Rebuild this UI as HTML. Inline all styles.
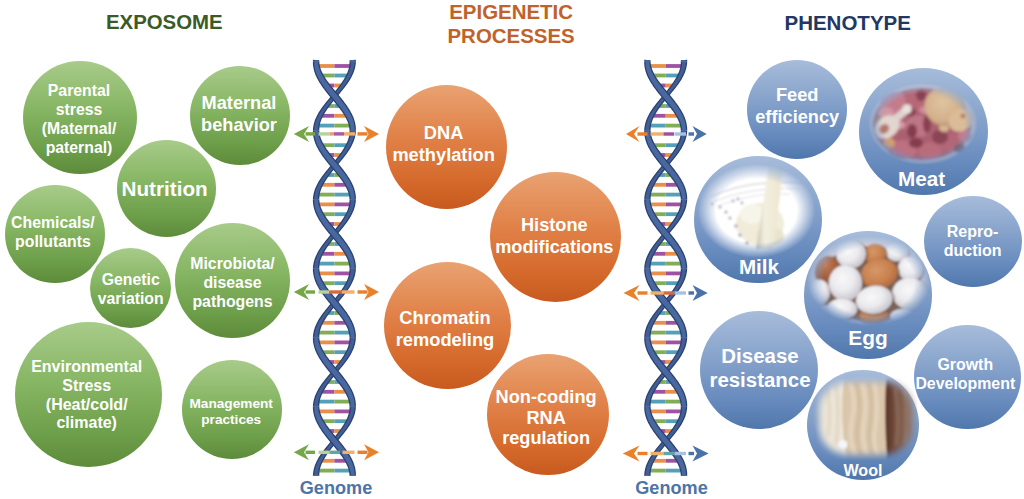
<!DOCTYPE html><html><head><meta charset="utf-8"><style>
html,body{margin:0;padding:0}
body{width:1024px;height:499px;background:#fff;position:relative;overflow:hidden;font-family:"Liberation Sans", sans-serif;font-weight:bold}
.c{position:absolute;border-radius:50%;overflow:hidden}
.l{position:absolute;width:400px;text-align:center;white-space:nowrap}
svg{position:absolute;left:0;top:0}
</style></head><body>
<div class="c" style="left:23.0px;top:60.6px;width:114.0px;height:113.4px;background:linear-gradient(180deg,#a8cb8a 0%,#88b765 40%,#6d9e49 78%,#5d8b3b 100%)"></div>
<div class="c" style="left:190.0px;top:66.0px;width:100.0px;height:99.4px;background:linear-gradient(180deg,#a8cb8a 0%,#88b765 40%,#6d9e49 78%,#5d8b3b 100%)"></div>
<div class="c" style="left:116.6px;top:140.1px;width:99.4px;height:97.0px;background:linear-gradient(180deg,#a8cb8a 0%,#88b765 40%,#6d9e49 78%,#5d8b3b 100%)"></div>
<div class="c" style="left:5.0px;top:184.5px;width:100.0px;height:98.6px;background:linear-gradient(180deg,#a8cb8a 0%,#88b765 40%,#6d9e49 78%,#5d8b3b 100%)"></div>
<div class="c" style="left:90.2px;top:247.8px;width:81.2px;height:80.0px;background:linear-gradient(180deg,#a8cb8a 0%,#88b765 40%,#6d9e49 78%,#5d8b3b 100%)"></div>
<div class="c" style="left:174.5px;top:223.0px;width:115.0px;height:114.8px;background:linear-gradient(180deg,#a8cb8a 0%,#88b765 40%,#6d9e49 78%,#5d8b3b 100%)"></div>
<div class="c" style="left:14.5px;top:321.8px;width:147.8px;height:145.4px;background:linear-gradient(180deg,#a8cb8a 0%,#88b765 40%,#6d9e49 78%,#5d8b3b 100%)"></div>
<div class="c" style="left:181.5px;top:359.7px;width:100.6px;height:99.2px;background:linear-gradient(180deg,#a8cb8a 0%,#88b765 40%,#6d9e49 78%,#5d8b3b 100%)"></div>
<div class="c" style="left:386.0px;top:85.4px;width:121.2px;height:124.0px;background:linear-gradient(180deg,#e9a272 0%,#e1834a 40%,#d5692b 78%,#c85a1f 100%)"></div>
<div class="c" style="left:489.8px;top:171.9px;width:131.4px;height:130.0px;background:linear-gradient(180deg,#e9a272 0%,#e1834a 40%,#d5692b 78%,#c85a1f 100%)"></div>
<div class="c" style="left:383.6px;top:261.8px;width:127.2px;height:127.0px;background:linear-gradient(180deg,#e9a272 0%,#e1834a 40%,#d5692b 78%,#c85a1f 100%)"></div>
<div class="c" style="left:487.0px;top:354.3px;width:122.0px;height:121.2px;background:linear-gradient(180deg,#e9a272 0%,#e1834a 40%,#d5692b 78%,#c85a1f 100%)"></div>
<div class="c" style="left:747.2px;top:60.0px;width:100.0px;height:98.6px;background:linear-gradient(180deg,#a7bcda 0%,#88a4cc 38%,#6a8dbf 72%,#5077ac 100%)"></div>
<div class="c" style="left:700.0px;top:311.0px;width:118.4px;height:118.4px;background:linear-gradient(180deg,#a7bcda 0%,#88a4cc 38%,#6a8dbf 72%,#5077ac 100%)"></div>
<div class="c" style="left:924.0px;top:195.8px;width:98.0px;height:91.5px;background:linear-gradient(180deg,#a7bcda 0%,#88a4cc 38%,#6a8dbf 72%,#5077ac 100%)"></div>
<div class="c" style="left:914.4px;top:324.7px;width:106.4px;height:104.8px;background:linear-gradient(180deg,#a7bcda 0%,#88a4cc 38%,#6a8dbf 72%,#5077ac 100%)"></div>
<div class="c" style="left:859.2px;top:67.8px;width:128.6px;height:127.0px;background:linear-gradient(180deg,#a7bcda 0%,#88a4cc 38%,#6a8dbf 72%,#5077ac 100%)"></div>
<div class="c" style="left:694.0px;top:155.7px;width:128.0px;height:127.2px;background:linear-gradient(180deg,#a7bcda 0%,#88a4cc 38%,#6a8dbf 72%,#5077ac 100%)"></div>
<div class="c" style="left:804.2px;top:231.4px;width:127.8px;height:127.2px;background:linear-gradient(180deg,#a7bcda 0%,#88a4cc 38%,#6a8dbf 72%,#5077ac 100%)"></div>
<div class="c" style="left:807.2px;top:369.7px;width:112.0px;height:110.6px;background:linear-gradient(180deg,#a7bcda 0%,#88a4cc 38%,#6a8dbf 72%,#5077ac 100%)"></div>
<svg width="1024" height="499" viewBox="0 0 1024 499"><defs>
<filter id="b1" x="-20%" y="-20%" width="140%" height="140%"><feGaussianBlur stdDeviation="0.9"/></filter>
<filter id="b15" x="-20%" y="-20%" width="140%" height="140%"><feGaussianBlur stdDeviation="1.4"/></filter>
<filter id="b2" x="-30%" y="-30%" width="160%" height="160%"><feGaussianBlur stdDeviation="2"/></filter>
<radialGradient id="fe" cx="50%" cy="50%" r="50%"><stop offset="0.74" stop-color="#fff"/><stop offset="1" stop-color="#000"/></radialGradient>
<radialGradient id="fe3" cx="50%" cy="50%" r="50%"><stop offset="0.8" stop-color="#fff"/><stop offset="1" stop-color="#000"/></radialGradient>
<radialGradient id="fe2" cx="50%" cy="50%" r="50%"><stop offset="0.68" stop-color="#fff"/><stop offset="1" stop-color="#000"/></radialGradient>
<mask id="mMeat" maskUnits="userSpaceOnUse" x="860" y="80" width="130" height="100"><ellipse cx="923" cy="124" rx="55" ry="41" fill="url(#fe)"/></mask>
<mask id="mMilk" maskUnits="userSpaceOnUse" x="690" y="155" width="140" height="115"><ellipse cx="756.5" cy="211" rx="59" ry="47" fill="url(#fe2)"/></mask>
<mask id="mEgg" maskUnits="userSpaceOnUse" x="800" y="230" width="140" height="110"><ellipse cx="869" cy="281" rx="62" ry="45" fill="url(#fe)"/></mask>
<filter id="mb" x="-20%" y="-20%" width="140%" height="140%"><feGaussianBlur stdDeviation="3.5"/></filter>
<mask id="mWool" maskUnits="userSpaceOnUse" x="800" y="365" width="130" height="105"><rect x="819" y="382" width="94" height="73" rx="30" ry="28" fill="#fff" filter="url(#mb)"/></mask>
<radialGradient id="gWe" cx="42%" cy="38%" r="68%"><stop offset="0" stop-color="#f8f8f9"/><stop offset="0.5" stop-color="#ebeaee"/><stop offset="1" stop-color="#c2bfc8"/></radialGradient>
<radialGradient id="gBe" cx="42%" cy="38%" r="68%"><stop offset="0" stop-color="#d79868"/><stop offset="0.6" stop-color="#c8804e"/><stop offset="1" stop-color="#a86842"/></radialGradient>
<radialGradient id="gBe2" cx="42%" cy="35%" r="68%"><stop offset="0" stop-color="#c27a54"/><stop offset="1" stop-color="#8e4e30"/></radialGradient>
<radialGradient id="gBread" cx="45%" cy="40%" r="65%"><stop offset="0" stop-color="#dfc4a0"/><stop offset="0.7" stop-color="#d2b08a"/><stop offset="1" stop-color="#b48e6c"/></radialGradient>
<linearGradient id="gBrown" gradientUnits="userSpaceOnUse" x1="886" x2="914" y1="0" y2="0"><stop offset="0" stop-color="#5c3528"/><stop offset="0.45" stop-color="#7a5646"/><stop offset="1" stop-color="#947868"/></linearGradient>
<linearGradient id="gStream" x1="0" x2="1" y1="0" y2="0"><stop offset="0" stop-color="#c6c0b2"/><stop offset="0.3" stop-color="#f3efdf"/><stop offset="0.8" stop-color="#eee7d2"/><stop offset="1" stop-color="#f6f3ea"/></linearGradient>
</defs><g mask="url(#mMeat)"><g filter="url(#b15)"><ellipse cx="923" cy="124" rx="58" ry="44" fill="#ecdcd8"/><ellipse cx="922" cy="124" rx="50" ry="37" fill="#aa6070"/><ellipse cx="893" cy="103" rx="14" ry="12" fill="#c27c8c" transform="rotate(-20 893 103)"/><ellipse cx="886" cy="113" rx="8" ry="6" fill="#d296a2" transform="rotate(0 886 113)"/><ellipse cx="915" cy="100" rx="10" ry="12" fill="#b66878" transform="rotate(0 915 100)"/><ellipse cx="921" cy="95" rx="5" ry="6" fill="#8a4252" transform="rotate(0 921 95)"/><ellipse cx="910" cy="112" rx="6" ry="5" fill="#8a4050" transform="rotate(0 910 112)"/><ellipse cx="918" cy="126" rx="13" ry="11" fill="#bc7686" transform="rotate(0 918 126)"/><ellipse cx="927" cy="124" rx="4" ry="9" fill="#884050" transform="rotate(0 927 124)"/><ellipse cx="912" cy="131" rx="5" ry="7" fill="#843c4c" transform="rotate(0 912 131)"/><ellipse cx="902" cy="150" rx="15" ry="10" fill="#bc7080" transform="rotate(0 902 150)"/><ellipse cx="930" cy="151" rx="12" ry="9" fill="#b86c7c" transform="rotate(0 930 151)"/><ellipse cx="952" cy="143" rx="13" ry="10" fill="#b26676" transform="rotate(0 952 143)"/><ellipse cx="940" cy="137" rx="8" ry="7" fill="#8a4454" transform="rotate(0 940 137)"/><ellipse cx="965" cy="136" rx="7" ry="6" fill="#c27c8a" transform="rotate(0 965 136)"/><ellipse cx="916" cy="143" rx="7" ry="5" fill="#843c4c" transform="rotate(0 916 143)"/><ellipse cx="944" cy="128" rx="5" ry="4" fill="#d6b894" transform="rotate(0 944 128)"/><ellipse cx="960" cy="149" rx="6" ry="5" fill="#7a4a4a" transform="rotate(0 960 149)"/><ellipse cx="889" cy="143" rx="6" ry="5" fill="#d0a070" transform="rotate(0 889 143)"/><ellipse cx="880" cy="120" rx="3" ry="3" fill="#7a9a60" transform="rotate(0 880 120)"/><ellipse cx="925" cy="110" rx="6" ry="4" fill="#d08a98" transform="rotate(0 925 110)"/><ellipse cx="900" cy="125" rx="5" ry="4" fill="#d89aa6" transform="rotate(0 900 125)"/><ellipse cx="945" cy="106" rx="20.5" ry="20" fill="url(#gBread)" transform="rotate(-10 945 106)"/><ellipse cx="961" cy="120" rx="13" ry="11" fill="#dcbc98" transform="rotate(-35 961 120)"/><ellipse cx="963" cy="116" rx="2.5" ry="2" fill="#a86848"/><path d="M893,121 L905,111" stroke="#ded2cc" stroke-width="7.5" stroke-linecap="round"/><circle cx="907" cy="109" r="4.8" fill="#e8e0dc"/><ellipse cx="887" cy="127" rx="13.5" ry="10.5" fill="#e2d6d0" transform="rotate(-40 887 127)"/><ellipse cx="884" cy="129" rx="5.5" ry="4.5" fill="#b4786a" transform="rotate(-40 884 129)"/></g></g><g mask="url(#mMilk)"><ellipse cx="756" cy="211" rx="62" ry="48" fill="#fff"/><g filter="url(#b1)"><path d="M710,197 Q748,179 804,183" stroke="#d6d6dc" stroke-width="1.3" fill="none"/><path d="M713,202 Q750,186 800,189" stroke="#dedee4" stroke-width="1.1" fill="none"/><path d="M718,206 Q752,192 790,194" stroke="#e2e2e8" stroke-width="1" fill="none"/><ellipse cx="760" cy="224" rx="24" ry="21" fill="#f1ecda"/><ellipse cx="752" cy="214" rx="12" ry="10" fill="#f7f4ea"/><ellipse cx="770" cy="236" rx="14" ry="10" fill="#ebe4cc"/><circle cx="712" cy="204" r="1.3" fill="#b2b0bc"/><circle cx="720" cy="207" r="1.5" fill="#b2b0bc"/><circle cx="726" cy="212" r="1.6" fill="#b2b0bc"/><circle cx="730" cy="218" r="1.6" fill="#b2b0bc"/><circle cx="736" cy="226" r="1.8" fill="#b2b0bc"/><circle cx="740" cy="235" r="1.8" fill="#b2b0bc"/><circle cx="747" cy="243" r="1.8" fill="#b2b0bc"/><circle cx="733" cy="201" r="1.4" fill="#b2b0bc"/><circle cx="738" cy="199" r="1.4" fill="#b2b0bc"/><circle cx="742" cy="203" r="1.4" fill="#b2b0bc"/><path d="M768.5,168 L784,168 L772.5,249 L756,249 Z" fill="url(#gStream)"/></g></g><g mask="url(#mEgg)"><g filter="url(#b1)"><ellipse cx="869" cy="281" rx="64" ry="47" fill="#dcd8de"/><ellipse cx="869" cy="284" rx="52" ry="38" fill="#7e6458"/><ellipse cx="897.8" cy="252.7" rx="12.899999999999999" ry="11.2" fill="#6e5648" opacity="0.55" transform="rotate(0 897 251.5)"/><ellipse cx="897" cy="251.5" rx="11.7" ry="10" fill="url(#gWe)" transform="rotate(0 897 251.5)"/><ellipse cx="875.8" cy="255.2" rx="12.2" ry="11.7" fill="#6e5648" opacity="0.55" transform="rotate(0 875 254)"/><ellipse cx="875" cy="254" rx="11" ry="10.5" fill="url(#gBe)" transform="rotate(0 875 254)"/><ellipse cx="851.8" cy="255.2" rx="16.2" ry="15.7" fill="#6e5648" opacity="0.55" transform="rotate(-10 851 254)"/><ellipse cx="851" cy="254" rx="15" ry="14.5" fill="url(#gWe)" transform="rotate(-10 851 254)"/><ellipse cx="827.8" cy="271.2" rx="13.2" ry="15.7" fill="#6e5648" opacity="0.55" transform="rotate(15 827 270)"/><ellipse cx="827" cy="270" rx="12" ry="14.5" fill="url(#gBe2)" transform="rotate(15 827 270)"/><ellipse cx="911.5" cy="269.8" rx="13.899999999999999" ry="13.799999999999999" fill="#6e5648" opacity="0.55" transform="rotate(0 910.7 268.6)"/><ellipse cx="910.7" cy="268.6" rx="12.7" ry="12.6" fill="url(#gWe)" transform="rotate(0 910.7 268.6)"/><ellipse cx="880.3" cy="274.8" rx="19.7" ry="16.2" fill="#6e5648" opacity="0.55" transform="rotate(-10 879.5 273.6)"/><ellipse cx="879.5" cy="273.6" rx="18.5" ry="15" fill="url(#gBe)" transform="rotate(-10 879.5 273.6)"/><ellipse cx="819.8" cy="293.2" rx="12.2" ry="13.799999999999999" fill="#6e5648" opacity="0.55" transform="rotate(0 819 292)"/><ellipse cx="819" cy="292" rx="11" ry="12.6" fill="url(#gWe)" transform="rotate(0 819 292)"/><ellipse cx="846.1999999999999" cy="284.2" rx="17.9" ry="19.2" fill="#6e5648" opacity="0.55" transform="rotate(0 845.4 283)"/><ellipse cx="845.4" cy="283" rx="16.7" ry="18" fill="url(#gWe)" transform="rotate(0 845.4 283)"/><ellipse cx="911.3" cy="295.2" rx="19.7" ry="17.4" fill="#6e5648" opacity="0.55" transform="rotate(10 910.5 294)"/><ellipse cx="910.5" cy="294" rx="18.5" ry="16.2" fill="url(#gWe)" transform="rotate(10 910.5 294)"/><ellipse cx="874.8" cy="317.2" rx="15.7" ry="9.2" fill="#6e5648" opacity="0.55" transform="rotate(0 874 316)"/><ellipse cx="874" cy="316" rx="14.5" ry="8" fill="url(#gBe)" transform="rotate(0 874 316)"/><ellipse cx="903.8" cy="317.7" rx="14.2" ry="8.7" fill="#6e5648" opacity="0.55" transform="rotate(0 903 316.5)"/><ellipse cx="903" cy="316.5" rx="13" ry="7.5" fill="url(#gWe)" transform="rotate(0 903 316.5)"/><ellipse cx="842.8" cy="310.2" rx="16.5" ry="11.6" fill="#6e5648" opacity="0.55" transform="rotate(0 842 309)"/><ellipse cx="842" cy="309" rx="15.3" ry="10.4" fill="url(#gWe)" transform="rotate(0 842 309)"/><ellipse cx="875.0999999999999" cy="301.0" rx="19.7" ry="15.2" fill="#6e5648" opacity="0.55" transform="rotate(-10 874.3 299.8)"/><ellipse cx="874.3" cy="299.8" rx="18.5" ry="14" fill="url(#gWe)" transform="rotate(-10 874.3 299.8)"/></g></g><g mask="url(#mWool)"><g filter="url(#b1)"><ellipse cx="865.5" cy="418" rx="53" ry="42" fill="#e6ddd2"/><path d="M816,378 L846,378 Q839,418 847,460 L816,460 Z" fill="#eee6d8"/><path d="M844,378 L888,378 L886,460 L847,460 Q839,418 844,378 Z" fill="#dac6aa"/><g filter="url(#b15)"><path d="M850,382 Q857,400 852,420 Q848,440 856,456 M862,382 Q868,402 864,422 Q861,440 867,456 M874,382 Q879,405 875,428 Q872,444 878,456" stroke="#eadcc6" stroke-width="3" fill="none"/><path d="M856,382 Q862,402 858,424 Q855,442 861,456 M869,382 Q874,404 870,426 Q868,442 873,456" stroke="#c7b090" stroke-width="1.6" fill="none"/><path d="M826,384 Q832,410 828,436 M836,384 Q840,412 836,444" stroke="#dfd3c0" stroke-width="3" fill="none"/></g><path d="M886,378 Q884,418 887,460 L918,460 L918,378 Z" fill="url(#gBrown)"/><g filter="url(#b15)"><path d="M895,388 Q900,418 896,446 M905,390 Q908,420 905,444" stroke="#9a7a68" stroke-width="2" fill="none"/></g><ellipse cx="843" cy="444.5" rx="4.5" ry="4.5" fill="#f4f6fa"/></g></g><filter id="hb" x="-5%" y="-5%" width="110%" height="110%"><feGaussianBlur stdDeviation="0.35"/></filter><g filter="url(#hb)"><rect x="316.5" y="64.1" width="17.9" height="3.8" fill="#e98f48"/><rect x="334.4" y="64.1" width="17.9" height="3.8" fill="#9e52a2"/><rect x="319.7" y="73.6" width="14.7" height="3.8" fill="#80ad55"/><rect x="334.4" y="73.6" width="14.7" height="3.8" fill="#55a0b6"/><rect x="326.0" y="83.6" width="8.4" height="3.8" fill="#9e52a2"/><rect x="334.4" y="83.6" width="8.4" height="3.8" fill="#e98f48"/><rect x="326.4" y="104.1" width="8.0" height="3.8" fill="#80ad55"/><rect x="334.4" y="104.1" width="8.0" height="3.8" fill="#55a0b6"/><rect x="320.0" y="113.9" width="14.4" height="3.8" fill="#9e52a2"/><rect x="334.4" y="113.9" width="14.4" height="3.8" fill="#e98f48"/><rect x="316.6" y="123.7" width="17.8" height="3.8" fill="#55a0b6"/><rect x="334.4" y="123.7" width="17.8" height="3.8" fill="#80ad55"/><rect x="320.0" y="143.3" width="14.4" height="3.8" fill="#80ad55"/><rect x="334.4" y="143.3" width="14.4" height="3.8" fill="#55a0b6"/><rect x="326.4" y="153.1" width="8.0" height="3.8" fill="#9e52a2"/><rect x="334.4" y="153.1" width="8.0" height="3.8" fill="#e98f48"/><rect x="326.4" y="173.1" width="8.0" height="3.8" fill="#55a0b6"/><rect x="334.4" y="173.1" width="8.0" height="3.8" fill="#80ad55"/><rect x="320.0" y="182.9" width="14.4" height="3.8" fill="#e98f48"/><rect x="334.4" y="182.9" width="14.4" height="3.8" fill="#9e52a2"/><rect x="316.6" y="192.7" width="17.8" height="3.8" fill="#80ad55"/><rect x="334.4" y="192.7" width="17.8" height="3.8" fill="#55a0b6"/><rect x="316.6" y="202.5" width="17.8" height="3.8" fill="#e98f48"/><rect x="334.4" y="202.5" width="17.8" height="3.8" fill="#9e52a2"/><rect x="320.0" y="212.3" width="14.4" height="3.8" fill="#80ad55"/><rect x="334.4" y="212.3" width="14.4" height="3.8" fill="#55a0b6"/><rect x="326.4" y="222.1" width="8.0" height="3.8" fill="#9e52a2"/><rect x="334.4" y="222.1" width="8.0" height="3.8" fill="#e98f48"/><rect x="326.4" y="242.1" width="8.0" height="3.8" fill="#80ad55"/><rect x="334.4" y="242.1" width="8.0" height="3.8" fill="#55a0b6"/><rect x="320.0" y="251.9" width="14.4" height="3.8" fill="#9e52a2"/><rect x="334.4" y="251.9" width="14.4" height="3.8" fill="#e98f48"/><rect x="316.6" y="261.7" width="17.8" height="3.8" fill="#55a0b6"/><rect x="334.4" y="261.7" width="17.8" height="3.8" fill="#80ad55"/><rect x="316.6" y="271.5" width="17.8" height="3.8" fill="#e98f48"/><rect x="334.4" y="271.5" width="17.8" height="3.8" fill="#9e52a2"/><rect x="320.0" y="281.3" width="14.4" height="3.8" fill="#80ad55"/><rect x="334.4" y="281.3" width="14.4" height="3.8" fill="#55a0b6"/><rect x="326.4" y="311.1" width="8.0" height="3.8" fill="#55a0b6"/><rect x="334.4" y="311.1" width="8.0" height="3.8" fill="#80ad55"/><rect x="320.0" y="320.9" width="14.4" height="3.8" fill="#e98f48"/><rect x="334.4" y="320.9" width="14.4" height="3.8" fill="#9e52a2"/><rect x="316.6" y="330.7" width="17.8" height="3.8" fill="#80ad55"/><rect x="334.4" y="330.7" width="17.8" height="3.8" fill="#55a0b6"/><rect x="316.6" y="340.5" width="17.8" height="3.8" fill="#e98f48"/><rect x="334.4" y="340.5" width="17.8" height="3.8" fill="#9e52a2"/><rect x="320.0" y="350.3" width="14.4" height="3.8" fill="#80ad55"/><rect x="334.4" y="350.3" width="14.4" height="3.8" fill="#55a0b6"/><rect x="326.4" y="360.1" width="8.0" height="3.8" fill="#9e52a2"/><rect x="334.4" y="360.1" width="8.0" height="3.8" fill="#e98f48"/><rect x="326.4" y="380.1" width="8.0" height="3.8" fill="#80ad55"/><rect x="334.4" y="380.1" width="8.0" height="3.8" fill="#55a0b6"/><rect x="320.0" y="389.9" width="14.4" height="3.8" fill="#9e52a2"/><rect x="334.4" y="389.9" width="14.4" height="3.8" fill="#e98f48"/><rect x="316.6" y="399.7" width="17.8" height="3.8" fill="#55a0b6"/><rect x="334.4" y="399.7" width="17.8" height="3.8" fill="#80ad55"/><rect x="316.6" y="409.5" width="17.8" height="3.8" fill="#e98f48"/><rect x="334.4" y="409.5" width="17.8" height="3.8" fill="#9e52a2"/><rect x="320.0" y="419.3" width="14.4" height="3.8" fill="#80ad55"/><rect x="334.4" y="419.3" width="14.4" height="3.8" fill="#55a0b6"/><rect x="326.4" y="429.1" width="8.0" height="3.8" fill="#9e52a2"/><rect x="334.4" y="429.1" width="8.0" height="3.8" fill="#e98f48"/><rect x="320.0" y="458.9" width="14.4" height="3.8" fill="#e98f48"/><rect x="334.4" y="458.9" width="14.4" height="3.8" fill="#9e52a2"/><rect x="316.6" y="468.7" width="17.8" height="3.8" fill="#80ad55"/><rect x="334.4" y="468.7" width="17.8" height="3.8" fill="#55a0b6"/><path d="M313.0,59.8 L312.9,60.7 L312.9,61.5 L319.3,61.5 L319.3,60.8 L319.3,60.2Z" fill="#2c4272"/><path d="M349.5,61.5 L349.5,62.8 L349.4,64.1 L349.3,65.5 L349.1,66.8 L348.8,68.2 L348.4,69.6 L347.9,71.0 L347.4,72.4 L346.8,73.8 L346.1,75.2 L345.4,76.6 L344.6,78.1 L343.7,79.5 L342.7,81.0 L341.8,82.5 L340.7,83.9 L339.6,85.4 L338.5,86.9 L337.3,88.4 L336.1,89.9 L334.9,91.4 L333.7,92.9 L332.4,94.4 L331.2,95.9 L329.9,97.4 L328.7,98.9 L327.5,100.4 L326.2,101.9 L325.0,103.4 L323.9,104.9 L322.7,106.5 L321.6,108.0 L320.6,109.5 L319.6,111.1 L318.6,112.6 L317.7,114.2 L316.9,115.8 L316.1,117.4 L315.4,119.0 L314.8,120.6 L314.3,122.2 L313.8,123.8 L313.5,125.5 L313.2,127.1 L313.0,128.8 L312.9,130.5 L319.3,130.5 L319.3,129.2 L319.4,127.9 L319.5,126.5 L319.7,125.2 L320.0,123.8 L320.4,122.4 L320.9,121.0 L321.4,119.6 L322.0,118.2 L322.7,116.8 L323.4,115.4 L324.2,113.9 L325.1,112.5 L326.1,111.0 L327.0,109.5 L328.1,108.1 L329.2,106.6 L330.3,105.1 L331.5,103.6 L332.7,102.1 L333.9,100.6 L335.1,99.1 L336.4,97.6 L337.6,96.1 L338.9,94.6 L340.1,93.1 L341.3,91.6 L342.6,90.1 L343.8,88.6 L344.9,87.1 L346.1,85.5 L347.2,84.0 L348.2,82.5 L349.2,80.9 L350.2,79.4 L351.1,77.8 L351.9,76.2 L352.7,74.6 L353.4,73.0 L354.0,71.4 L354.5,69.8 L355.0,68.2 L355.3,66.5 L355.6,64.9 L355.8,63.2 L355.9,61.5Z" fill="#2c4272"/><path d="M349.5,130.5 L349.5,131.8 L349.4,133.1 L349.3,134.5 L349.1,135.8 L348.8,137.2 L348.4,138.6 L347.9,140.0 L347.4,141.4 L346.8,142.8 L346.1,144.2 L345.4,145.6 L344.6,147.1 L343.7,148.5 L342.7,150.0 L341.8,151.5 L340.7,152.9 L339.6,154.4 L338.5,155.9 L337.3,157.4 L336.1,158.9 L334.9,160.4 L333.7,161.9 L332.4,163.4 L331.2,164.9 L329.9,166.4 L328.7,167.9 L327.5,169.4 L326.2,170.9 L325.0,172.4 L323.9,173.9 L322.7,175.5 L321.6,177.0 L320.6,178.5 L319.6,180.1 L318.6,181.6 L317.7,183.2 L316.9,184.8 L316.1,186.4 L315.4,188.0 L314.8,189.6 L314.3,191.2 L313.8,192.8 L313.5,194.5 L313.2,196.1 L313.0,197.8 L312.9,199.5 L319.3,199.5 L319.3,198.2 L319.4,196.9 L319.5,195.5 L319.7,194.2 L320.0,192.8 L320.4,191.4 L320.9,190.0 L321.4,188.6 L322.0,187.2 L322.7,185.8 L323.4,184.4 L324.2,182.9 L325.1,181.5 L326.1,180.0 L327.0,178.5 L328.1,177.1 L329.2,175.6 L330.3,174.1 L331.5,172.6 L332.7,171.1 L333.9,169.6 L335.1,168.1 L336.4,166.6 L337.6,165.1 L338.9,163.6 L340.1,162.1 L341.3,160.6 L342.6,159.1 L343.8,157.6 L344.9,156.1 L346.1,154.5 L347.2,153.0 L348.2,151.5 L349.2,149.9 L350.2,148.4 L351.1,146.8 L351.9,145.2 L352.7,143.6 L353.4,142.0 L354.0,140.4 L354.5,138.8 L355.0,137.2 L355.3,135.5 L355.6,133.9 L355.8,132.2 L355.9,130.5Z" fill="#2c4272"/><path d="M349.5,199.5 L349.5,200.8 L349.4,202.1 L349.3,203.5 L349.1,204.8 L348.8,206.2 L348.4,207.6 L347.9,209.0 L347.4,210.4 L346.8,211.8 L346.1,213.2 L345.4,214.6 L344.6,216.1 L343.7,217.5 L342.7,219.0 L341.8,220.5 L340.7,221.9 L339.6,223.4 L338.5,224.9 L337.3,226.4 L336.1,227.9 L334.9,229.4 L333.7,230.9 L332.4,232.4 L331.2,233.9 L329.9,235.4 L328.7,236.9 L327.5,238.4 L326.2,239.9 L325.0,241.4 L323.9,242.9 L322.7,244.5 L321.6,246.0 L320.6,247.5 L319.6,249.1 L318.6,250.6 L317.7,252.2 L316.9,253.8 L316.1,255.4 L315.4,257.0 L314.8,258.6 L314.3,260.2 L313.8,261.8 L313.5,263.5 L313.2,265.1 L313.0,266.8 L312.9,268.5 L319.3,268.5 L319.3,267.2 L319.4,265.9 L319.5,264.5 L319.7,263.2 L320.0,261.8 L320.4,260.4 L320.9,259.0 L321.4,257.6 L322.0,256.2 L322.7,254.8 L323.4,253.4 L324.2,251.9 L325.1,250.5 L326.1,249.0 L327.0,247.5 L328.1,246.1 L329.2,244.6 L330.3,243.1 L331.5,241.6 L332.7,240.1 L333.9,238.6 L335.1,237.1 L336.4,235.6 L337.6,234.1 L338.9,232.6 L340.1,231.1 L341.3,229.6 L342.6,228.1 L343.8,226.6 L344.9,225.1 L346.1,223.5 L347.2,222.0 L348.2,220.5 L349.2,218.9 L350.2,217.4 L351.1,215.8 L351.9,214.2 L352.7,212.6 L353.4,211.0 L354.0,209.4 L354.5,207.8 L355.0,206.2 L355.3,204.5 L355.6,202.9 L355.8,201.2 L355.9,199.5Z" fill="#2c4272"/><path d="M349.5,268.5 L349.5,269.8 L349.4,271.1 L349.3,272.5 L349.1,273.8 L348.8,275.2 L348.4,276.6 L347.9,278.0 L347.4,279.4 L346.8,280.8 L346.1,282.2 L345.4,283.6 L344.6,285.1 L343.7,286.5 L342.7,288.0 L341.8,289.5 L340.7,290.9 L339.6,292.4 L338.5,293.9 L337.3,295.4 L336.1,296.9 L334.9,298.4 L333.7,299.9 L332.4,301.4 L331.2,302.9 L329.9,304.4 L328.7,305.9 L327.5,307.4 L326.2,308.9 L325.0,310.4 L323.9,311.9 L322.7,313.5 L321.6,315.0 L320.6,316.5 L319.6,318.1 L318.6,319.6 L317.7,321.2 L316.9,322.8 L316.1,324.4 L315.4,326.0 L314.8,327.6 L314.3,329.2 L313.8,330.8 L313.5,332.5 L313.2,334.1 L313.0,335.8 L312.9,337.5 L319.3,337.5 L319.3,336.2 L319.4,334.9 L319.5,333.5 L319.7,332.2 L320.0,330.8 L320.4,329.4 L320.9,328.0 L321.4,326.6 L322.0,325.2 L322.7,323.8 L323.4,322.4 L324.2,320.9 L325.1,319.5 L326.1,318.0 L327.0,316.5 L328.1,315.1 L329.2,313.6 L330.3,312.1 L331.5,310.6 L332.7,309.1 L333.9,307.6 L335.1,306.1 L336.4,304.6 L337.6,303.1 L338.9,301.6 L340.1,300.1 L341.3,298.6 L342.6,297.1 L343.8,295.6 L344.9,294.1 L346.1,292.5 L347.2,291.0 L348.2,289.5 L349.2,287.9 L350.2,286.4 L351.1,284.8 L351.9,283.2 L352.7,281.6 L353.4,280.0 L354.0,278.4 L354.5,276.8 L355.0,275.2 L355.3,273.5 L355.6,271.9 L355.8,270.2 L355.9,268.5Z" fill="#2c4272"/><path d="M349.5,337.5 L349.5,338.8 L349.4,340.1 L349.3,341.5 L349.1,342.8 L348.8,344.2 L348.4,345.6 L347.9,347.0 L347.4,348.4 L346.8,349.8 L346.1,351.2 L345.4,352.6 L344.6,354.1 L343.7,355.5 L342.7,357.0 L341.8,358.5 L340.7,359.9 L339.6,361.4 L338.5,362.9 L337.3,364.4 L336.1,365.9 L334.9,367.4 L333.7,368.9 L332.4,370.4 L331.2,371.9 L329.9,373.4 L328.7,374.9 L327.5,376.4 L326.2,377.9 L325.0,379.4 L323.9,380.9 L322.7,382.5 L321.6,384.0 L320.6,385.5 L319.6,387.1 L318.6,388.6 L317.7,390.2 L316.9,391.8 L316.1,393.4 L315.4,395.0 L314.8,396.6 L314.3,398.2 L313.8,399.8 L313.5,401.5 L313.2,403.1 L313.0,404.8 L312.9,406.5 L319.3,406.5 L319.3,405.2 L319.4,403.9 L319.5,402.5 L319.7,401.2 L320.0,399.8 L320.4,398.4 L320.9,397.0 L321.4,395.6 L322.0,394.2 L322.7,392.8 L323.4,391.4 L324.2,389.9 L325.1,388.5 L326.1,387.0 L327.0,385.5 L328.1,384.1 L329.2,382.6 L330.3,381.1 L331.5,379.6 L332.7,378.1 L333.9,376.6 L335.1,375.1 L336.4,373.6 L337.6,372.1 L338.9,370.6 L340.1,369.1 L341.3,367.6 L342.6,366.1 L343.8,364.6 L344.9,363.1 L346.1,361.5 L347.2,360.0 L348.2,358.5 L349.2,356.9 L350.2,355.4 L351.1,353.8 L351.9,352.2 L352.7,350.6 L353.4,349.0 L354.0,347.4 L354.5,345.8 L355.0,344.2 L355.3,342.5 L355.6,340.9 L355.8,339.2 L355.9,337.5Z" fill="#2c4272"/><path d="M349.5,406.5 L349.5,407.8 L349.4,409.1 L349.3,410.5 L349.1,411.8 L348.8,413.2 L348.4,414.6 L347.9,416.0 L347.4,417.4 L346.8,418.8 L346.1,420.2 L345.4,421.6 L344.6,423.1 L343.7,424.5 L342.7,426.0 L341.8,427.5 L340.7,428.9 L339.6,430.4 L338.5,431.9 L337.3,433.4 L336.1,434.9 L334.9,436.4 L333.7,437.9 L332.4,439.4 L331.2,440.9 L329.9,442.4 L328.7,443.9 L327.5,445.4 L326.2,446.9 L325.0,448.4 L323.9,449.9 L322.7,451.5 L321.6,453.0 L320.6,454.5 L319.6,456.1 L318.6,457.6 L317.7,459.2 L316.9,460.8 L316.1,462.4 L315.4,464.0 L314.8,465.6 L314.3,467.2 L313.8,468.8 L313.5,470.5 L313.2,472.1 L313.0,473.8 L312.9,475.5 L319.3,475.5 L319.3,474.2 L319.4,472.9 L319.5,471.5 L319.7,470.2 L320.0,468.8 L320.4,467.4 L320.9,466.0 L321.4,464.6 L322.0,463.2 L322.7,461.8 L323.4,460.4 L324.2,458.9 L325.1,457.5 L326.1,456.0 L327.0,454.5 L328.1,453.1 L329.2,451.6 L330.3,450.1 L331.5,448.6 L332.7,447.1 L333.9,445.6 L335.1,444.1 L336.4,442.6 L337.6,441.1 L338.9,439.6 L340.1,438.1 L341.3,436.6 L342.6,435.1 L343.8,433.6 L344.9,432.1 L346.1,430.5 L347.2,429.0 L348.2,427.5 L349.2,425.9 L350.2,424.4 L351.1,422.8 L351.9,421.2 L352.7,419.6 L353.4,418.0 L354.0,416.4 L354.5,414.8 L355.0,413.2 L355.3,411.5 L355.6,409.9 L355.8,408.2 L355.9,406.5Z" fill="#2c4272"/><path d="M349.5,475.5 L349.5,475.7 L349.5,475.9 L355.9,476.1 L355.9,475.8 L355.9,475.5Z" fill="#2c4272"/><path d="M314.3,59.9 L314.2,61.1 L314.2,62.4 L318.0,62.2 L318.0,61.2 L318.0,60.1Z" fill="#425e94"/><path d="M350.8,60.8 L350.8,62.2 L350.8,63.6 L350.7,65.0 L350.5,66.4 L350.2,67.8 L349.8,69.2 L349.4,70.7 L348.9,72.1 L348.3,73.6 L347.6,75.0 L346.9,76.5 L346.1,78.0 L345.2,79.5 L344.3,81.0 L343.3,82.5 L342.3,84.0 L341.2,85.4 L340.1,86.9 L338.9,88.4 L337.8,89.9 L336.5,91.4 L335.3,92.9 L334.1,94.4 L332.8,96.0 L331.6,97.5 L330.3,99.0 L329.1,100.5 L327.9,102.0 L326.7,103.5 L325.5,105.0 L324.3,106.5 L323.2,108.0 L322.2,109.5 L321.2,111.0 L320.2,112.5 L319.3,114.1 L318.5,115.6 L317.7,117.1 L317.0,118.7 L316.3,120.2 L315.8,121.8 L315.3,123.4 L314.9,125.0 L314.6,126.5 L314.4,128.1 L314.2,129.7 L314.2,131.4 L318.0,131.2 L318.0,129.8 L318.0,128.4 L318.1,127.0 L318.3,125.6 L318.6,124.2 L319.0,122.8 L319.4,121.3 L319.9,119.9 L320.5,118.4 L321.2,117.0 L321.9,115.5 L322.7,114.0 L323.6,112.5 L324.5,111.0 L325.5,109.5 L326.5,108.0 L327.6,106.6 L328.7,105.1 L329.9,103.6 L331.0,102.1 L332.3,100.6 L333.5,99.1 L334.7,97.6 L336.0,96.0 L337.2,94.5 L338.5,93.0 L339.7,91.5 L340.9,90.0 L342.1,88.5 L343.3,87.0 L344.5,85.5 L345.6,84.0 L346.6,82.5 L347.6,81.0 L348.6,79.5 L349.5,77.9 L350.3,76.4 L351.1,74.9 L351.8,73.3 L352.5,71.8 L353.0,70.2 L353.5,68.6 L353.9,67.0 L354.2,65.5 L354.4,63.9 L354.6,62.3 L354.6,60.6Z" fill="#425e94"/><path d="M350.8,129.8 L350.8,131.2 L350.8,132.6 L350.7,134.0 L350.5,135.4 L350.2,136.8 L349.8,138.2 L349.4,139.7 L348.9,141.1 L348.3,142.6 L347.6,144.0 L346.9,145.5 L346.1,147.0 L345.2,148.5 L344.3,150.0 L343.3,151.5 L342.3,153.0 L341.2,154.4 L340.1,155.9 L338.9,157.4 L337.8,158.9 L336.5,160.4 L335.3,161.9 L334.1,163.4 L332.8,165.0 L331.6,166.5 L330.3,168.0 L329.1,169.5 L327.9,171.0 L326.7,172.5 L325.5,174.0 L324.3,175.5 L323.2,177.0 L322.2,178.5 L321.2,180.0 L320.2,181.5 L319.3,183.1 L318.5,184.6 L317.7,186.1 L317.0,187.7 L316.3,189.2 L315.8,190.8 L315.3,192.4 L314.9,194.0 L314.6,195.5 L314.4,197.1 L314.2,198.7 L314.2,200.4 L318.0,200.2 L318.0,198.8 L318.0,197.4 L318.1,196.0 L318.3,194.6 L318.6,193.2 L319.0,191.8 L319.4,190.3 L319.9,188.9 L320.5,187.4 L321.2,186.0 L321.9,184.5 L322.7,183.0 L323.6,181.5 L324.5,180.0 L325.5,178.5 L326.5,177.0 L327.6,175.6 L328.7,174.1 L329.9,172.6 L331.0,171.1 L332.3,169.6 L333.5,168.1 L334.7,166.6 L336.0,165.0 L337.2,163.5 L338.5,162.0 L339.7,160.5 L340.9,159.0 L342.1,157.5 L343.3,156.0 L344.5,154.5 L345.6,153.0 L346.6,151.5 L347.6,150.0 L348.6,148.5 L349.5,146.9 L350.3,145.4 L351.1,143.9 L351.8,142.3 L352.5,140.8 L353.0,139.2 L353.5,137.6 L353.9,136.0 L354.2,134.5 L354.4,132.9 L354.6,131.3 L354.6,129.6Z" fill="#425e94"/><path d="M350.8,198.8 L350.8,200.2 L350.8,201.6 L350.7,203.0 L350.5,204.4 L350.2,205.8 L349.8,207.2 L349.4,208.7 L348.9,210.1 L348.3,211.6 L347.6,213.0 L346.9,214.5 L346.1,216.0 L345.2,217.5 L344.3,219.0 L343.3,220.5 L342.3,222.0 L341.2,223.4 L340.1,224.9 L338.9,226.4 L337.8,227.9 L336.5,229.4 L335.3,230.9 L334.1,232.4 L332.8,234.0 L331.6,235.5 L330.3,237.0 L329.1,238.5 L327.9,240.0 L326.7,241.5 L325.5,243.0 L324.3,244.5 L323.2,246.0 L322.2,247.5 L321.2,249.0 L320.2,250.5 L319.3,252.1 L318.5,253.6 L317.7,255.1 L317.0,256.7 L316.3,258.2 L315.8,259.8 L315.3,261.4 L314.9,263.0 L314.6,264.5 L314.4,266.1 L314.2,267.7 L314.2,269.4 L318.0,269.2 L318.0,267.8 L318.0,266.4 L318.1,265.0 L318.3,263.6 L318.6,262.2 L319.0,260.8 L319.4,259.3 L319.9,257.9 L320.5,256.4 L321.2,255.0 L321.9,253.5 L322.7,252.0 L323.6,250.5 L324.5,249.0 L325.5,247.5 L326.5,246.0 L327.6,244.6 L328.7,243.1 L329.9,241.6 L331.0,240.1 L332.3,238.6 L333.5,237.1 L334.7,235.6 L336.0,234.0 L337.2,232.5 L338.5,231.0 L339.7,229.5 L340.9,228.0 L342.1,226.5 L343.3,225.0 L344.5,223.5 L345.6,222.0 L346.6,220.5 L347.6,219.0 L348.6,217.5 L349.5,215.9 L350.3,214.4 L351.1,212.9 L351.8,211.3 L352.5,209.8 L353.0,208.2 L353.5,206.6 L353.9,205.0 L354.2,203.5 L354.4,201.9 L354.6,200.3 L354.6,198.6Z" fill="#425e94"/><path d="M350.8,267.8 L350.8,269.2 L350.8,270.6 L350.7,272.0 L350.5,273.4 L350.2,274.8 L349.8,276.2 L349.4,277.7 L348.9,279.1 L348.3,280.6 L347.6,282.0 L346.9,283.5 L346.1,285.0 L345.2,286.5 L344.3,288.0 L343.3,289.5 L342.3,291.0 L341.2,292.4 L340.1,293.9 L338.9,295.4 L337.8,296.9 L336.5,298.4 L335.3,299.9 L334.1,301.4 L332.8,303.0 L331.6,304.5 L330.3,306.0 L329.1,307.5 L327.9,309.0 L326.7,310.5 L325.5,312.0 L324.3,313.5 L323.2,315.0 L322.2,316.5 L321.2,318.0 L320.2,319.5 L319.3,321.1 L318.5,322.6 L317.7,324.1 L317.0,325.7 L316.3,327.2 L315.8,328.8 L315.3,330.4 L314.9,332.0 L314.6,333.5 L314.4,335.1 L314.2,336.7 L314.2,338.4 L318.0,338.2 L318.0,336.8 L318.0,335.4 L318.1,334.0 L318.3,332.6 L318.6,331.2 L319.0,329.8 L319.4,328.3 L319.9,326.9 L320.5,325.4 L321.2,324.0 L321.9,322.5 L322.7,321.0 L323.6,319.5 L324.5,318.0 L325.5,316.5 L326.5,315.0 L327.6,313.6 L328.7,312.1 L329.9,310.6 L331.0,309.1 L332.3,307.6 L333.5,306.1 L334.7,304.6 L336.0,303.0 L337.2,301.5 L338.5,300.0 L339.7,298.5 L340.9,297.0 L342.1,295.5 L343.3,294.0 L344.5,292.5 L345.6,291.0 L346.6,289.5 L347.6,288.0 L348.6,286.5 L349.5,284.9 L350.3,283.4 L351.1,281.9 L351.8,280.3 L352.5,278.8 L353.0,277.2 L353.5,275.6 L353.9,274.0 L354.2,272.5 L354.4,270.9 L354.6,269.3 L354.6,267.6Z" fill="#425e94"/><path d="M350.8,336.8 L350.8,338.2 L350.8,339.6 L350.7,341.0 L350.5,342.4 L350.2,343.8 L349.8,345.2 L349.4,346.7 L348.9,348.1 L348.3,349.6 L347.6,351.0 L346.9,352.5 L346.1,354.0 L345.2,355.5 L344.3,357.0 L343.3,358.5 L342.3,360.0 L341.2,361.4 L340.1,362.9 L338.9,364.4 L337.8,365.9 L336.5,367.4 L335.3,368.9 L334.1,370.4 L332.8,372.0 L331.6,373.5 L330.3,375.0 L329.1,376.5 L327.9,378.0 L326.7,379.5 L325.5,381.0 L324.3,382.5 L323.2,384.0 L322.2,385.5 L321.2,387.0 L320.2,388.5 L319.3,390.1 L318.5,391.6 L317.7,393.1 L317.0,394.7 L316.3,396.2 L315.8,397.8 L315.3,399.4 L314.9,401.0 L314.6,402.5 L314.4,404.1 L314.2,405.7 L314.2,407.4 L318.0,407.2 L318.0,405.8 L318.0,404.4 L318.1,403.0 L318.3,401.6 L318.6,400.2 L319.0,398.8 L319.4,397.3 L319.9,395.9 L320.5,394.4 L321.2,393.0 L321.9,391.5 L322.7,390.0 L323.6,388.5 L324.5,387.0 L325.5,385.5 L326.5,384.0 L327.6,382.6 L328.7,381.1 L329.9,379.6 L331.0,378.1 L332.3,376.6 L333.5,375.1 L334.7,373.6 L336.0,372.0 L337.2,370.5 L338.5,369.0 L339.7,367.5 L340.9,366.0 L342.1,364.5 L343.3,363.0 L344.5,361.5 L345.6,360.0 L346.6,358.5 L347.6,357.0 L348.6,355.5 L349.5,353.9 L350.3,352.4 L351.1,350.9 L351.8,349.3 L352.5,347.8 L353.0,346.2 L353.5,344.6 L353.9,343.0 L354.2,341.5 L354.4,339.9 L354.6,338.3 L354.6,336.6Z" fill="#425e94"/><path d="M350.8,405.8 L350.8,407.2 L350.8,408.6 L350.7,410.0 L350.5,411.5 L350.2,412.9 L349.8,414.4 L349.4,415.8 L348.8,417.3 L348.2,418.8 L347.5,420.3 L346.8,421.8 L345.9,423.3 L345.0,424.8 L344.1,426.3 L343.1,427.8 L342.0,429.4 L340.9,430.9 L339.7,432.4 L338.6,433.9 L337.3,435.5 L336.1,437.0 L334.8,438.5 L333.6,440.0 L332.3,441.6 L331.0,443.1 L329.8,444.6 L328.5,446.2 L327.3,447.7 L326.1,449.2 L324.9,450.8 L323.7,452.3 L322.6,453.8 L321.6,455.4 L320.6,456.9 L319.6,458.5 L318.8,460.0 L317.9,461.6 L317.2,463.2 L316.5,464.7 L315.9,466.3 L315.4,467.9 L315.0,469.5 L314.7,471.1 L314.4,472.8 L314.3,474.4 L314.2,476.0 L318.0,476.0 L318.0,474.5 L318.0,473.1 L318.2,471.7 L318.4,470.2 L318.7,468.8 L319.1,467.3 L319.5,465.9 L320.1,464.4 L320.7,462.9 L321.4,461.4 L322.2,459.9 L323.0,458.4 L323.9,456.9 L324.9,455.4 L325.9,453.9 L327.0,452.3 L328.1,450.8 L329.3,449.3 L330.5,447.8 L331.7,446.2 L333.0,444.7 L334.2,443.2 L335.5,441.7 L336.8,440.1 L338.0,438.6 L339.3,437.1 L340.5,435.5 L341.8,434.0 L343.0,432.5 L344.1,430.9 L345.3,429.4 L346.4,427.9 L347.4,426.3 L348.4,424.8 L349.3,423.2 L350.2,421.7 L351.0,420.1 L351.7,418.5 L352.4,416.9 L353.0,415.4 L353.5,413.8 L353.9,412.2 L354.2,410.5 L354.4,408.9 L354.6,407.3 L354.6,405.6Z" fill="#425e94"/><path d="M350.8,474.8 L350.8,475.4 L350.8,476.0 L354.6,476.0 L354.6,475.3 L354.6,474.6Z" fill="#425e94"/><path d="M349.4,60.2 L349.5,60.8 L349.5,61.5 L355.9,61.5 L355.9,60.7 L355.9,59.8Z" fill="#2c4272"/><path d="M312.9,61.5 L312.9,63.2 L313.0,64.9 L313.2,66.6 L313.5,68.2 L313.9,69.9 L314.3,71.6 L314.9,73.3 L315.5,74.9 L316.2,76.5 L317.0,78.2 L317.9,79.8 L318.8,81.4 L319.7,83.0 L320.8,84.6 L321.8,86.2 L322.9,87.7 L324.1,89.3 L325.3,90.9 L326.5,92.4 L327.7,93.9 L328.9,95.4 L330.2,97.0 L331.4,98.5 L332.7,100.0 L333.9,101.4 L335.2,102.9 L336.4,104.4 L337.5,105.9 L338.7,107.3 L339.8,108.7 L340.8,110.2 L341.9,111.6 L342.8,113.0 L343.8,114.4 L344.6,115.8 L345.4,117.2 L346.1,118.5 L346.8,119.9 L347.4,121.3 L347.9,122.6 L348.4,123.9 L348.7,125.2 L349.0,126.6 L349.3,127.9 L349.4,129.2 L349.5,130.5 L355.9,130.5 L355.9,128.8 L355.8,127.1 L355.6,125.4 L355.3,123.8 L354.9,122.1 L354.5,120.4 L353.9,118.7 L353.3,117.1 L352.6,115.5 L351.8,113.8 L350.9,112.2 L350.0,110.6 L349.1,109.0 L348.0,107.4 L347.0,105.8 L345.9,104.3 L344.7,102.7 L343.5,101.1 L342.3,99.6 L341.1,98.1 L339.9,96.6 L338.6,95.0 L337.4,93.5 L336.1,92.0 L334.9,90.6 L333.6,89.1 L332.4,87.6 L331.3,86.1 L330.1,84.7 L329.0,83.3 L328.0,81.8 L326.9,80.4 L326.0,79.0 L325.0,77.6 L324.2,76.2 L323.4,74.8 L322.7,73.5 L322.0,72.1 L321.4,70.7 L320.9,69.4 L320.4,68.1 L320.1,66.8 L319.8,65.4 L319.5,64.1 L319.4,62.8 L319.3,61.5Z" fill="#2c4272"/><path d="M312.9,130.5 L312.9,132.2 L313.0,133.9 L313.2,135.6 L313.5,137.2 L313.9,138.9 L314.3,140.6 L314.9,142.3 L315.5,143.9 L316.2,145.5 L317.0,147.2 L317.9,148.8 L318.8,150.4 L319.7,152.0 L320.8,153.6 L321.8,155.2 L322.9,156.7 L324.1,158.3 L325.3,159.9 L326.5,161.4 L327.7,162.9 L328.9,164.4 L330.2,166.0 L331.4,167.5 L332.7,169.0 L333.9,170.4 L335.2,171.9 L336.4,173.4 L337.5,174.9 L338.7,176.3 L339.8,177.7 L340.8,179.2 L341.9,180.6 L342.8,182.0 L343.8,183.4 L344.6,184.8 L345.4,186.2 L346.1,187.5 L346.8,188.9 L347.4,190.3 L347.9,191.6 L348.4,192.9 L348.7,194.2 L349.0,195.6 L349.3,196.9 L349.4,198.2 L349.5,199.5 L355.9,199.5 L355.9,197.8 L355.8,196.1 L355.6,194.4 L355.3,192.8 L354.9,191.1 L354.5,189.4 L353.9,187.7 L353.3,186.1 L352.6,184.5 L351.8,182.8 L350.9,181.2 L350.0,179.6 L349.1,178.0 L348.0,176.4 L347.0,174.8 L345.9,173.3 L344.7,171.7 L343.5,170.1 L342.3,168.6 L341.1,167.1 L339.9,165.6 L338.6,164.0 L337.4,162.5 L336.1,161.0 L334.9,159.6 L333.6,158.1 L332.4,156.6 L331.3,155.1 L330.1,153.7 L329.0,152.3 L328.0,150.8 L326.9,149.4 L326.0,148.0 L325.0,146.6 L324.2,145.2 L323.4,143.8 L322.7,142.5 L322.0,141.1 L321.4,139.7 L320.9,138.4 L320.4,137.1 L320.1,135.8 L319.8,134.4 L319.5,133.1 L319.4,131.8 L319.3,130.5Z" fill="#2c4272"/><path d="M312.9,199.5 L312.9,201.2 L313.0,202.9 L313.2,204.6 L313.5,206.2 L313.9,207.9 L314.3,209.6 L314.9,211.3 L315.5,212.9 L316.2,214.5 L317.0,216.2 L317.9,217.8 L318.8,219.4 L319.7,221.0 L320.8,222.6 L321.8,224.2 L322.9,225.7 L324.1,227.3 L325.3,228.9 L326.5,230.4 L327.7,231.9 L328.9,233.4 L330.2,235.0 L331.4,236.5 L332.7,238.0 L333.9,239.4 L335.2,240.9 L336.4,242.4 L337.5,243.9 L338.7,245.3 L339.8,246.7 L340.8,248.2 L341.9,249.6 L342.8,251.0 L343.8,252.4 L344.6,253.8 L345.4,255.2 L346.1,256.5 L346.8,257.9 L347.4,259.3 L347.9,260.6 L348.4,261.9 L348.7,263.2 L349.0,264.6 L349.3,265.9 L349.4,267.2 L349.5,268.5 L355.9,268.5 L355.9,266.8 L355.8,265.1 L355.6,263.4 L355.3,261.8 L354.9,260.1 L354.5,258.4 L353.9,256.7 L353.3,255.1 L352.6,253.5 L351.8,251.8 L350.9,250.2 L350.0,248.6 L349.1,247.0 L348.0,245.4 L347.0,243.8 L345.9,242.3 L344.7,240.7 L343.5,239.1 L342.3,237.6 L341.1,236.1 L339.9,234.6 L338.6,233.0 L337.4,231.5 L336.1,230.0 L334.9,228.6 L333.6,227.1 L332.4,225.6 L331.3,224.1 L330.1,222.7 L329.0,221.3 L328.0,219.8 L326.9,218.4 L326.0,217.0 L325.0,215.6 L324.2,214.2 L323.4,212.8 L322.7,211.5 L322.0,210.1 L321.4,208.7 L320.9,207.4 L320.4,206.1 L320.1,204.8 L319.8,203.4 L319.5,202.1 L319.4,200.8 L319.3,199.5Z" fill="#2c4272"/><path d="M312.9,268.5 L312.9,270.2 L313.0,271.9 L313.2,273.6 L313.5,275.2 L313.9,276.9 L314.3,278.6 L314.9,280.3 L315.5,281.9 L316.2,283.5 L317.0,285.2 L317.9,286.8 L318.8,288.4 L319.7,290.0 L320.8,291.6 L321.8,293.2 L322.9,294.7 L324.1,296.3 L325.3,297.9 L326.5,299.4 L327.7,300.9 L328.9,302.4 L330.2,304.0 L331.4,305.5 L332.7,307.0 L333.9,308.4 L335.2,309.9 L336.4,311.4 L337.5,312.9 L338.7,314.3 L339.8,315.7 L340.8,317.2 L341.9,318.6 L342.8,320.0 L343.8,321.4 L344.6,322.8 L345.4,324.2 L346.1,325.5 L346.8,326.9 L347.4,328.3 L347.9,329.6 L348.4,330.9 L348.7,332.2 L349.0,333.6 L349.3,334.9 L349.4,336.2 L349.5,337.5 L355.9,337.5 L355.9,335.8 L355.8,334.1 L355.6,332.4 L355.3,330.8 L354.9,329.1 L354.5,327.4 L353.9,325.7 L353.3,324.1 L352.6,322.5 L351.8,320.8 L350.9,319.2 L350.0,317.6 L349.1,316.0 L348.0,314.4 L347.0,312.8 L345.9,311.3 L344.7,309.7 L343.5,308.1 L342.3,306.6 L341.1,305.1 L339.9,303.6 L338.6,302.0 L337.4,300.5 L336.1,299.0 L334.9,297.6 L333.6,296.1 L332.4,294.6 L331.3,293.1 L330.1,291.7 L329.0,290.3 L328.0,288.8 L326.9,287.4 L326.0,286.0 L325.0,284.6 L324.2,283.2 L323.4,281.8 L322.7,280.5 L322.0,279.1 L321.4,277.7 L320.9,276.4 L320.4,275.1 L320.1,273.8 L319.8,272.4 L319.5,271.1 L319.4,269.8 L319.3,268.5Z" fill="#2c4272"/><path d="M312.9,337.5 L312.9,339.2 L313.0,340.9 L313.2,342.6 L313.5,344.2 L313.9,345.9 L314.3,347.6 L314.9,349.3 L315.5,350.9 L316.2,352.5 L317.0,354.2 L317.9,355.8 L318.8,357.4 L319.7,359.0 L320.8,360.6 L321.8,362.2 L322.9,363.7 L324.1,365.3 L325.3,366.9 L326.5,368.4 L327.7,369.9 L328.9,371.4 L330.2,373.0 L331.4,374.5 L332.7,376.0 L333.9,377.4 L335.2,378.9 L336.4,380.4 L337.5,381.9 L338.7,383.3 L339.8,384.7 L340.8,386.2 L341.9,387.6 L342.8,389.0 L343.8,390.4 L344.6,391.8 L345.4,393.2 L346.1,394.5 L346.8,395.9 L347.4,397.3 L347.9,398.6 L348.4,399.9 L348.7,401.2 L349.0,402.6 L349.3,403.9 L349.4,405.2 L349.5,406.5 L355.9,406.5 L355.9,404.8 L355.8,403.1 L355.6,401.4 L355.3,399.8 L354.9,398.1 L354.5,396.4 L353.9,394.7 L353.3,393.1 L352.6,391.5 L351.8,389.8 L350.9,388.2 L350.0,386.6 L349.1,385.0 L348.0,383.4 L347.0,381.8 L345.9,380.3 L344.7,378.7 L343.5,377.1 L342.3,375.6 L341.1,374.1 L339.9,372.6 L338.6,371.0 L337.4,369.5 L336.1,368.0 L334.9,366.6 L333.6,365.1 L332.4,363.6 L331.3,362.1 L330.1,360.7 L329.0,359.3 L328.0,357.8 L326.9,356.4 L326.0,355.0 L325.0,353.6 L324.2,352.2 L323.4,350.8 L322.7,349.5 L322.0,348.1 L321.4,346.7 L320.9,345.4 L320.4,344.1 L320.1,342.8 L319.8,341.4 L319.5,340.1 L319.4,338.8 L319.3,337.5Z" fill="#2c4272"/><path d="M312.9,406.5 L312.9,408.2 L313.0,409.9 L313.2,411.6 L313.5,413.2 L313.9,414.9 L314.3,416.6 L314.9,418.3 L315.5,419.9 L316.2,421.5 L317.0,423.2 L317.9,424.8 L318.8,426.4 L319.7,428.0 L320.8,429.6 L321.8,431.2 L322.9,432.7 L324.1,434.3 L325.3,435.9 L326.5,437.4 L327.7,438.9 L328.9,440.4 L330.2,442.0 L331.4,443.5 L332.7,445.0 L333.9,446.4 L335.2,447.9 L336.4,449.4 L337.5,450.9 L338.7,452.3 L339.8,453.7 L340.8,455.2 L341.9,456.6 L342.8,458.0 L343.8,459.4 L344.6,460.8 L345.4,462.2 L346.1,463.5 L346.8,464.9 L347.4,466.3 L347.9,467.6 L348.4,468.9 L348.7,470.2 L349.0,471.6 L349.3,472.9 L349.4,474.2 L349.5,475.5 L355.9,475.5 L355.9,473.8 L355.8,472.1 L355.6,470.4 L355.3,468.8 L354.9,467.1 L354.5,465.4 L353.9,463.7 L353.3,462.1 L352.6,460.5 L351.8,458.8 L350.9,457.2 L350.0,455.6 L349.1,454.0 L348.0,452.4 L347.0,450.8 L345.9,449.3 L344.7,447.7 L343.5,446.1 L342.3,444.6 L341.1,443.1 L339.9,441.6 L338.6,440.0 L337.4,438.5 L336.1,437.0 L334.9,435.6 L333.6,434.1 L332.4,432.6 L331.3,431.1 L330.1,429.7 L329.0,428.3 L328.0,426.8 L326.9,425.4 L326.0,424.0 L325.0,422.6 L324.2,421.2 L323.4,419.8 L322.7,418.5 L322.0,417.1 L321.4,415.7 L320.9,414.4 L320.4,413.1 L320.1,411.8 L319.8,410.4 L319.5,409.1 L319.4,407.8 L319.3,406.5Z" fill="#2c4272"/><path d="M312.9,475.5 L312.9,475.8 L312.9,476.1 L319.3,475.9 L319.3,475.7 L319.3,475.5Z" fill="#2c4272"/><path d="M350.7,60.1 L350.8,61.2 L350.8,62.2 L354.6,62.4 L354.6,61.1 L354.6,59.9Z" fill="#4968a0"/><path d="M314.2,60.6 L314.2,62.3 L314.2,63.9 L314.4,65.5 L314.6,67.1 L314.9,68.7 L315.3,70.3 L315.8,71.9 L316.4,73.6 L317.0,75.2 L317.8,76.8 L318.6,78.3 L319.4,79.9 L320.3,81.5 L321.3,83.1 L322.3,84.6 L323.4,86.2 L324.5,87.7 L325.7,89.3 L326.9,90.8 L328.1,92.3 L329.3,93.9 L330.6,95.4 L331.8,96.9 L333.1,98.4 L334.3,99.9 L335.6,101.4 L336.8,102.9 L338.0,104.3 L339.1,105.8 L340.3,107.3 L341.4,108.7 L342.4,110.2 L343.5,111.6 L344.4,113.0 L345.3,114.5 L346.2,115.9 L346.9,117.3 L347.7,118.7 L348.3,120.1 L348.9,121.5 L349.4,122.9 L349.8,124.3 L350.2,125.7 L350.5,127.1 L350.6,128.5 L350.8,129.8 L350.8,131.2 L354.6,131.4 L354.6,129.7 L354.6,128.1 L354.4,126.5 L354.2,124.9 L353.9,123.3 L353.5,121.7 L353.0,120.1 L352.4,118.4 L351.8,116.8 L351.0,115.2 L350.2,113.7 L349.4,112.1 L348.5,110.5 L347.5,108.9 L346.5,107.4 L345.4,105.8 L344.3,104.3 L343.1,102.7 L341.9,101.2 L340.7,99.7 L339.5,98.1 L338.2,96.6 L337.0,95.1 L335.7,93.6 L334.5,92.1 L333.2,90.6 L332.0,89.1 L330.8,87.7 L329.7,86.2 L328.5,84.7 L327.4,83.3 L326.4,81.8 L325.3,80.4 L324.4,79.0 L323.5,77.5 L322.6,76.1 L321.9,74.7 L321.1,73.3 L320.5,71.9 L319.9,70.5 L319.4,69.1 L319.0,67.7 L318.6,66.3 L318.3,64.9 L318.2,63.5 L318.0,62.2 L318.0,60.8Z" fill="#4968a0"/><path d="M314.2,129.6 L314.2,131.3 L314.2,132.9 L314.4,134.5 L314.6,136.1 L314.9,137.7 L315.3,139.3 L315.8,140.9 L316.4,142.6 L317.0,144.2 L317.8,145.8 L318.6,147.3 L319.4,148.9 L320.3,150.5 L321.3,152.1 L322.3,153.6 L323.4,155.2 L324.5,156.7 L325.7,158.3 L326.9,159.8 L328.1,161.3 L329.3,162.9 L330.6,164.4 L331.8,165.9 L333.1,167.4 L334.3,168.9 L335.6,170.4 L336.8,171.9 L338.0,173.3 L339.1,174.8 L340.3,176.3 L341.4,177.7 L342.4,179.2 L343.5,180.6 L344.4,182.0 L345.3,183.5 L346.2,184.9 L346.9,186.3 L347.7,187.7 L348.3,189.1 L348.9,190.5 L349.4,191.9 L349.8,193.3 L350.2,194.7 L350.5,196.1 L350.6,197.5 L350.8,198.8 L350.8,200.2 L354.6,200.4 L354.6,198.7 L354.6,197.1 L354.4,195.5 L354.2,193.9 L353.9,192.3 L353.5,190.7 L353.0,189.1 L352.4,187.4 L351.8,185.8 L351.0,184.2 L350.2,182.7 L349.4,181.1 L348.5,179.5 L347.5,177.9 L346.5,176.4 L345.4,174.8 L344.3,173.3 L343.1,171.7 L341.9,170.2 L340.7,168.7 L339.5,167.1 L338.2,165.6 L337.0,164.1 L335.7,162.6 L334.5,161.1 L333.2,159.6 L332.0,158.1 L330.8,156.7 L329.7,155.2 L328.5,153.7 L327.4,152.3 L326.4,150.8 L325.3,149.4 L324.4,148.0 L323.5,146.5 L322.6,145.1 L321.9,143.7 L321.1,142.3 L320.5,140.9 L319.9,139.5 L319.4,138.1 L319.0,136.7 L318.6,135.3 L318.3,133.9 L318.2,132.5 L318.0,131.2 L318.0,129.8Z" fill="#4968a0"/><path d="M314.2,198.6 L314.2,200.3 L314.2,201.9 L314.4,203.5 L314.6,205.1 L314.9,206.7 L315.3,208.3 L315.8,209.9 L316.4,211.6 L317.0,213.2 L317.8,214.8 L318.6,216.3 L319.4,217.9 L320.3,219.5 L321.3,221.1 L322.3,222.6 L323.4,224.2 L324.5,225.7 L325.7,227.3 L326.9,228.8 L328.1,230.3 L329.3,231.9 L330.6,233.4 L331.8,234.9 L333.1,236.4 L334.3,237.9 L335.6,239.4 L336.8,240.9 L338.0,242.3 L339.1,243.8 L340.3,245.3 L341.4,246.7 L342.4,248.2 L343.5,249.6 L344.4,251.0 L345.3,252.5 L346.2,253.9 L346.9,255.3 L347.7,256.7 L348.3,258.1 L348.9,259.5 L349.4,260.9 L349.8,262.3 L350.2,263.7 L350.5,265.1 L350.6,266.5 L350.8,267.8 L350.8,269.2 L354.6,269.4 L354.6,267.7 L354.6,266.1 L354.4,264.5 L354.2,262.9 L353.9,261.3 L353.5,259.7 L353.0,258.1 L352.4,256.4 L351.8,254.8 L351.0,253.2 L350.2,251.7 L349.4,250.1 L348.5,248.5 L347.5,246.9 L346.5,245.4 L345.4,243.8 L344.3,242.3 L343.1,240.7 L341.9,239.2 L340.7,237.7 L339.5,236.1 L338.2,234.6 L337.0,233.1 L335.7,231.6 L334.5,230.1 L333.2,228.6 L332.0,227.1 L330.8,225.7 L329.7,224.2 L328.5,222.7 L327.4,221.3 L326.4,219.8 L325.3,218.4 L324.4,217.0 L323.5,215.5 L322.6,214.1 L321.9,212.7 L321.1,211.3 L320.5,209.9 L319.9,208.5 L319.4,207.1 L319.0,205.7 L318.6,204.3 L318.3,202.9 L318.2,201.5 L318.0,200.2 L318.0,198.8Z" fill="#4968a0"/><path d="M314.2,267.6 L314.2,269.3 L314.2,270.9 L314.4,272.5 L314.6,274.1 L314.9,275.7 L315.3,277.3 L315.8,278.9 L316.4,280.6 L317.0,282.2 L317.8,283.8 L318.6,285.3 L319.4,286.9 L320.3,288.5 L321.3,290.1 L322.3,291.6 L323.4,293.2 L324.5,294.7 L325.7,296.3 L326.9,297.8 L328.1,299.3 L329.3,300.9 L330.6,302.4 L331.8,303.9 L333.1,305.4 L334.3,306.9 L335.6,308.4 L336.8,309.9 L338.0,311.3 L339.1,312.8 L340.3,314.3 L341.4,315.7 L342.4,317.2 L343.5,318.6 L344.4,320.0 L345.3,321.5 L346.2,322.9 L346.9,324.3 L347.7,325.7 L348.3,327.1 L348.9,328.5 L349.4,329.9 L349.8,331.3 L350.2,332.7 L350.5,334.1 L350.6,335.5 L350.8,336.8 L350.8,338.2 L354.6,338.4 L354.6,336.7 L354.6,335.1 L354.4,333.5 L354.2,331.9 L353.9,330.3 L353.5,328.7 L353.0,327.1 L352.4,325.4 L351.8,323.8 L351.0,322.2 L350.2,320.7 L349.4,319.1 L348.5,317.5 L347.5,315.9 L346.5,314.4 L345.4,312.8 L344.3,311.3 L343.1,309.7 L341.9,308.2 L340.7,306.7 L339.5,305.1 L338.2,303.6 L337.0,302.1 L335.7,300.6 L334.5,299.1 L333.2,297.6 L332.0,296.1 L330.8,294.7 L329.7,293.2 L328.5,291.7 L327.4,290.3 L326.4,288.8 L325.3,287.4 L324.4,286.0 L323.5,284.5 L322.6,283.1 L321.9,281.7 L321.1,280.3 L320.5,278.9 L319.9,277.5 L319.4,276.1 L319.0,274.7 L318.6,273.3 L318.3,271.9 L318.2,270.5 L318.0,269.2 L318.0,267.8Z" fill="#4968a0"/><path d="M314.2,336.6 L314.2,338.3 L314.2,339.9 L314.4,341.5 L314.6,343.1 L314.9,344.7 L315.3,346.3 L315.8,347.9 L316.4,349.6 L317.0,351.2 L317.8,352.8 L318.6,354.3 L319.4,355.9 L320.3,357.5 L321.3,359.1 L322.3,360.6 L323.4,362.2 L324.5,363.7 L325.7,365.3 L326.9,366.8 L328.1,368.3 L329.3,369.9 L330.6,371.4 L331.8,372.9 L333.1,374.4 L334.3,375.9 L335.6,377.4 L336.8,378.9 L338.0,380.3 L339.1,381.8 L340.3,383.3 L341.4,384.7 L342.4,386.2 L343.5,387.6 L344.4,389.0 L345.3,390.5 L346.2,391.9 L346.9,393.3 L347.7,394.7 L348.3,396.1 L348.9,397.5 L349.4,398.9 L349.8,400.3 L350.2,401.7 L350.5,403.1 L350.6,404.5 L350.8,405.8 L350.8,407.2 L354.6,407.4 L354.6,405.7 L354.6,404.1 L354.4,402.5 L354.2,400.9 L353.9,399.3 L353.5,397.7 L353.0,396.1 L352.4,394.4 L351.8,392.8 L351.0,391.2 L350.2,389.7 L349.4,388.1 L348.5,386.5 L347.5,384.9 L346.5,383.4 L345.4,381.8 L344.3,380.3 L343.1,378.7 L341.9,377.2 L340.7,375.7 L339.5,374.1 L338.2,372.6 L337.0,371.1 L335.7,369.6 L334.5,368.1 L333.2,366.6 L332.0,365.1 L330.8,363.7 L329.7,362.2 L328.5,360.7 L327.4,359.3 L326.4,357.8 L325.3,356.4 L324.4,355.0 L323.5,353.5 L322.6,352.1 L321.9,350.7 L321.1,349.3 L320.5,347.9 L319.9,346.5 L319.4,345.1 L319.0,343.7 L318.6,342.3 L318.3,340.9 L318.2,339.5 L318.0,338.2 L318.0,336.8Z" fill="#4968a0"/><path d="M314.2,405.6 L314.2,407.3 L314.2,408.9 L314.4,410.6 L314.6,412.2 L314.9,413.9 L315.4,415.5 L315.9,417.1 L316.5,418.8 L317.1,420.4 L317.9,422.0 L318.7,423.6 L319.6,425.3 L320.6,426.9 L321.6,428.4 L322.6,430.0 L323.7,431.6 L324.9,433.2 L326.1,434.8 L327.3,436.3 L328.5,437.9 L329.8,439.4 L331.0,441.0 L332.3,442.5 L333.6,444.0 L334.9,445.5 L336.1,447.0 L337.3,448.5 L338.5,450.0 L339.7,451.5 L340.9,453.0 L342.0,454.5 L343.0,456.0 L344.0,457.4 L345.0,458.9 L345.8,460.3 L346.7,461.8 L347.4,463.2 L348.1,464.6 L348.7,466.1 L349.2,467.5 L349.7,468.9 L350.1,470.3 L350.4,471.7 L350.6,473.1 L350.8,474.5 L350.8,476.0 L354.6,476.0 L354.6,474.4 L354.5,472.8 L354.4,471.1 L354.1,469.5 L353.8,467.8 L353.3,466.2 L352.8,464.5 L352.2,462.9 L351.5,461.3 L350.8,459.7 L349.9,458.0 L349.0,456.4 L348.1,454.8 L347.0,453.2 L346.0,451.7 L344.8,450.1 L343.7,448.5 L342.5,446.9 L341.3,445.4 L340.0,443.8 L338.8,442.3 L337.5,440.7 L336.2,439.2 L335.0,437.7 L333.7,436.2 L332.5,434.7 L331.2,433.2 L330.0,431.7 L328.9,430.2 L327.7,428.7 L326.6,427.2 L325.6,425.7 L324.6,424.3 L323.7,422.8 L322.8,421.4 L322.0,419.9 L321.2,418.5 L320.6,417.1 L320.0,415.7 L319.5,414.2 L319.0,412.8 L318.6,411.4 L318.4,410.0 L318.2,408.6 L318.0,407.2 L318.0,405.8Z" fill="#4968a0"/><path d="M314.2,474.6 L314.2,475.3 L314.2,476.0 L318.0,476.0 L318.0,475.4 L318.0,474.8Z" fill="#4968a0"/><rect x="647.8" y="64.1" width="17.9" height="3.8" fill="#e98f48"/><rect x="665.7" y="64.1" width="17.9" height="3.8" fill="#9e52a2"/><rect x="651.0" y="73.6" width="14.7" height="3.8" fill="#80ad55"/><rect x="665.7" y="73.6" width="14.7" height="3.8" fill="#55a0b6"/><rect x="657.3" y="83.6" width="8.4" height="3.8" fill="#9e52a2"/><rect x="665.7" y="83.6" width="8.4" height="3.8" fill="#e98f48"/><rect x="657.7" y="104.1" width="8.0" height="3.8" fill="#80ad55"/><rect x="665.7" y="104.1" width="8.0" height="3.8" fill="#55a0b6"/><rect x="651.3" y="113.9" width="14.4" height="3.8" fill="#9e52a2"/><rect x="665.7" y="113.9" width="14.4" height="3.8" fill="#e98f48"/><rect x="647.9" y="123.7" width="17.8" height="3.8" fill="#55a0b6"/><rect x="665.7" y="123.7" width="17.8" height="3.8" fill="#80ad55"/><rect x="651.3" y="143.3" width="14.4" height="3.8" fill="#80ad55"/><rect x="665.7" y="143.3" width="14.4" height="3.8" fill="#55a0b6"/><rect x="657.7" y="153.1" width="8.0" height="3.8" fill="#9e52a2"/><rect x="665.7" y="153.1" width="8.0" height="3.8" fill="#e98f48"/><rect x="657.7" y="173.1" width="8.0" height="3.8" fill="#55a0b6"/><rect x="665.7" y="173.1" width="8.0" height="3.8" fill="#80ad55"/><rect x="651.3" y="182.9" width="14.4" height="3.8" fill="#e98f48"/><rect x="665.7" y="182.9" width="14.4" height="3.8" fill="#9e52a2"/><rect x="647.9" y="192.7" width="17.8" height="3.8" fill="#80ad55"/><rect x="665.7" y="192.7" width="17.8" height="3.8" fill="#55a0b6"/><rect x="647.9" y="202.5" width="17.8" height="3.8" fill="#e98f48"/><rect x="665.7" y="202.5" width="17.8" height="3.8" fill="#9e52a2"/><rect x="651.3" y="212.3" width="14.4" height="3.8" fill="#80ad55"/><rect x="665.7" y="212.3" width="14.4" height="3.8" fill="#55a0b6"/><rect x="657.7" y="222.1" width="8.0" height="3.8" fill="#9e52a2"/><rect x="665.7" y="222.1" width="8.0" height="3.8" fill="#e98f48"/><rect x="657.7" y="242.1" width="8.0" height="3.8" fill="#80ad55"/><rect x="665.7" y="242.1" width="8.0" height="3.8" fill="#55a0b6"/><rect x="651.3" y="251.9" width="14.4" height="3.8" fill="#9e52a2"/><rect x="665.7" y="251.9" width="14.4" height="3.8" fill="#e98f48"/><rect x="647.9" y="261.7" width="17.8" height="3.8" fill="#55a0b6"/><rect x="665.7" y="261.7" width="17.8" height="3.8" fill="#80ad55"/><rect x="647.9" y="271.5" width="17.8" height="3.8" fill="#e98f48"/><rect x="665.7" y="271.5" width="17.8" height="3.8" fill="#9e52a2"/><rect x="651.3" y="281.3" width="14.4" height="3.8" fill="#80ad55"/><rect x="665.7" y="281.3" width="14.4" height="3.8" fill="#55a0b6"/><rect x="657.7" y="311.1" width="8.0" height="3.8" fill="#55a0b6"/><rect x="665.7" y="311.1" width="8.0" height="3.8" fill="#80ad55"/><rect x="651.3" y="320.9" width="14.4" height="3.8" fill="#e98f48"/><rect x="665.7" y="320.9" width="14.4" height="3.8" fill="#9e52a2"/><rect x="647.9" y="330.7" width="17.8" height="3.8" fill="#80ad55"/><rect x="665.7" y="330.7" width="17.8" height="3.8" fill="#55a0b6"/><rect x="647.9" y="340.5" width="17.8" height="3.8" fill="#e98f48"/><rect x="665.7" y="340.5" width="17.8" height="3.8" fill="#9e52a2"/><rect x="651.3" y="350.3" width="14.4" height="3.8" fill="#80ad55"/><rect x="665.7" y="350.3" width="14.4" height="3.8" fill="#55a0b6"/><rect x="657.7" y="360.1" width="8.0" height="3.8" fill="#9e52a2"/><rect x="665.7" y="360.1" width="8.0" height="3.8" fill="#e98f48"/><rect x="657.7" y="380.1" width="8.0" height="3.8" fill="#80ad55"/><rect x="665.7" y="380.1" width="8.0" height="3.8" fill="#55a0b6"/><rect x="651.3" y="389.9" width="14.4" height="3.8" fill="#9e52a2"/><rect x="665.7" y="389.9" width="14.4" height="3.8" fill="#e98f48"/><rect x="647.9" y="399.7" width="17.8" height="3.8" fill="#55a0b6"/><rect x="665.7" y="399.7" width="17.8" height="3.8" fill="#80ad55"/><rect x="647.9" y="409.5" width="17.8" height="3.8" fill="#e98f48"/><rect x="665.7" y="409.5" width="17.8" height="3.8" fill="#9e52a2"/><rect x="651.3" y="419.3" width="14.4" height="3.8" fill="#80ad55"/><rect x="665.7" y="419.3" width="14.4" height="3.8" fill="#55a0b6"/><rect x="657.7" y="429.1" width="8.0" height="3.8" fill="#9e52a2"/><rect x="665.7" y="429.1" width="8.0" height="3.8" fill="#e98f48"/><rect x="651.3" y="458.9" width="14.4" height="3.8" fill="#e98f48"/><rect x="665.7" y="458.9" width="14.4" height="3.8" fill="#9e52a2"/><rect x="647.9" y="468.7" width="17.8" height="3.8" fill="#80ad55"/><rect x="665.7" y="468.7" width="17.8" height="3.8" fill="#55a0b6"/><path d="M644.3,59.8 L644.2,60.7 L644.2,61.5 L650.6,61.5 L650.6,60.8 L650.6,60.2Z" fill="#2c4272"/><path d="M680.8,61.5 L680.8,62.8 L680.7,64.1 L680.6,65.5 L680.4,66.8 L680.1,68.2 L679.7,69.6 L679.2,71.0 L678.7,72.4 L678.1,73.8 L677.4,75.2 L676.7,76.6 L675.9,78.1 L675.0,79.5 L674.0,81.0 L673.1,82.5 L672.0,83.9 L670.9,85.4 L669.8,86.9 L668.6,88.4 L667.4,89.9 L666.2,91.4 L665.0,92.9 L663.7,94.4 L662.5,95.9 L661.2,97.4 L660.0,98.9 L658.8,100.4 L657.5,101.9 L656.3,103.4 L655.2,104.9 L654.0,106.5 L652.9,108.0 L651.9,109.5 L650.9,111.1 L649.9,112.6 L649.0,114.2 L648.2,115.8 L647.4,117.4 L646.7,119.0 L646.1,120.6 L645.6,122.2 L645.1,123.8 L644.8,125.5 L644.5,127.1 L644.3,128.8 L644.2,130.5 L650.6,130.5 L650.6,129.2 L650.7,127.9 L650.8,126.5 L651.0,125.2 L651.3,123.8 L651.7,122.4 L652.2,121.0 L652.7,119.6 L653.3,118.2 L654.0,116.8 L654.7,115.4 L655.5,113.9 L656.4,112.5 L657.4,111.0 L658.3,109.5 L659.4,108.1 L660.5,106.6 L661.6,105.1 L662.8,103.6 L664.0,102.1 L665.2,100.6 L666.4,99.1 L667.7,97.6 L668.9,96.1 L670.2,94.6 L671.4,93.1 L672.6,91.6 L673.9,90.1 L675.1,88.6 L676.2,87.1 L677.4,85.5 L678.5,84.0 L679.5,82.5 L680.5,80.9 L681.5,79.4 L682.4,77.8 L683.2,76.2 L684.0,74.6 L684.7,73.0 L685.3,71.4 L685.8,69.8 L686.3,68.2 L686.6,66.5 L686.9,64.9 L687.1,63.2 L687.2,61.5Z" fill="#2c4272"/><path d="M680.8,130.5 L680.8,131.8 L680.7,133.1 L680.6,134.5 L680.4,135.8 L680.1,137.2 L679.7,138.6 L679.2,140.0 L678.7,141.4 L678.1,142.8 L677.4,144.2 L676.7,145.6 L675.9,147.1 L675.0,148.5 L674.0,150.0 L673.1,151.5 L672.0,152.9 L670.9,154.4 L669.8,155.9 L668.6,157.4 L667.4,158.9 L666.2,160.4 L665.0,161.9 L663.7,163.4 L662.5,164.9 L661.2,166.4 L660.0,167.9 L658.8,169.4 L657.5,170.9 L656.3,172.4 L655.2,173.9 L654.0,175.5 L652.9,177.0 L651.9,178.5 L650.9,180.1 L649.9,181.6 L649.0,183.2 L648.2,184.8 L647.4,186.4 L646.7,188.0 L646.1,189.6 L645.6,191.2 L645.1,192.8 L644.8,194.5 L644.5,196.1 L644.3,197.8 L644.2,199.5 L650.6,199.5 L650.6,198.2 L650.7,196.9 L650.8,195.5 L651.0,194.2 L651.3,192.8 L651.7,191.4 L652.2,190.0 L652.7,188.6 L653.3,187.2 L654.0,185.8 L654.7,184.4 L655.5,182.9 L656.4,181.5 L657.4,180.0 L658.3,178.5 L659.4,177.1 L660.5,175.6 L661.6,174.1 L662.8,172.6 L664.0,171.1 L665.2,169.6 L666.4,168.1 L667.7,166.6 L668.9,165.1 L670.2,163.6 L671.4,162.1 L672.6,160.6 L673.9,159.1 L675.1,157.6 L676.2,156.1 L677.4,154.5 L678.5,153.0 L679.5,151.5 L680.5,149.9 L681.5,148.4 L682.4,146.8 L683.2,145.2 L684.0,143.6 L684.7,142.0 L685.3,140.4 L685.8,138.8 L686.3,137.2 L686.6,135.5 L686.9,133.9 L687.1,132.2 L687.2,130.5Z" fill="#2c4272"/><path d="M680.8,199.5 L680.8,200.8 L680.7,202.1 L680.6,203.5 L680.4,204.8 L680.1,206.2 L679.7,207.6 L679.2,209.0 L678.7,210.4 L678.1,211.8 L677.4,213.2 L676.7,214.6 L675.9,216.1 L675.0,217.5 L674.0,219.0 L673.1,220.5 L672.0,221.9 L670.9,223.4 L669.8,224.9 L668.6,226.4 L667.4,227.9 L666.2,229.4 L665.0,230.9 L663.7,232.4 L662.5,233.9 L661.2,235.4 L660.0,236.9 L658.8,238.4 L657.5,239.9 L656.3,241.4 L655.2,242.9 L654.0,244.5 L652.9,246.0 L651.9,247.5 L650.9,249.1 L649.9,250.6 L649.0,252.2 L648.2,253.8 L647.4,255.4 L646.7,257.0 L646.1,258.6 L645.6,260.2 L645.1,261.8 L644.8,263.5 L644.5,265.1 L644.3,266.8 L644.2,268.5 L650.6,268.5 L650.6,267.2 L650.7,265.9 L650.8,264.5 L651.0,263.2 L651.3,261.8 L651.7,260.4 L652.2,259.0 L652.7,257.6 L653.3,256.2 L654.0,254.8 L654.7,253.4 L655.5,251.9 L656.4,250.5 L657.4,249.0 L658.3,247.5 L659.4,246.1 L660.5,244.6 L661.6,243.1 L662.8,241.6 L664.0,240.1 L665.2,238.6 L666.4,237.1 L667.7,235.6 L668.9,234.1 L670.2,232.6 L671.4,231.1 L672.6,229.6 L673.9,228.1 L675.1,226.6 L676.2,225.1 L677.4,223.5 L678.5,222.0 L679.5,220.5 L680.5,218.9 L681.5,217.4 L682.4,215.8 L683.2,214.2 L684.0,212.6 L684.7,211.0 L685.3,209.4 L685.8,207.8 L686.3,206.2 L686.6,204.5 L686.9,202.9 L687.1,201.2 L687.2,199.5Z" fill="#2c4272"/><path d="M680.8,268.5 L680.8,269.8 L680.7,271.1 L680.6,272.5 L680.4,273.8 L680.1,275.2 L679.7,276.6 L679.2,278.0 L678.7,279.4 L678.1,280.8 L677.4,282.2 L676.7,283.6 L675.9,285.1 L675.0,286.5 L674.0,288.0 L673.1,289.5 L672.0,290.9 L670.9,292.4 L669.8,293.9 L668.6,295.4 L667.4,296.9 L666.2,298.4 L665.0,299.9 L663.7,301.4 L662.5,302.9 L661.2,304.4 L660.0,305.9 L658.8,307.4 L657.5,308.9 L656.3,310.4 L655.2,311.9 L654.0,313.5 L652.9,315.0 L651.9,316.5 L650.9,318.1 L649.9,319.6 L649.0,321.2 L648.2,322.8 L647.4,324.4 L646.7,326.0 L646.1,327.6 L645.6,329.2 L645.1,330.8 L644.8,332.5 L644.5,334.1 L644.3,335.8 L644.2,337.5 L650.6,337.5 L650.6,336.2 L650.7,334.9 L650.8,333.5 L651.0,332.2 L651.3,330.8 L651.7,329.4 L652.2,328.0 L652.7,326.6 L653.3,325.2 L654.0,323.8 L654.7,322.4 L655.5,320.9 L656.4,319.5 L657.4,318.0 L658.3,316.5 L659.4,315.1 L660.5,313.6 L661.6,312.1 L662.8,310.6 L664.0,309.1 L665.2,307.6 L666.4,306.1 L667.7,304.6 L668.9,303.1 L670.2,301.6 L671.4,300.1 L672.6,298.6 L673.9,297.1 L675.1,295.6 L676.2,294.1 L677.4,292.5 L678.5,291.0 L679.5,289.5 L680.5,287.9 L681.5,286.4 L682.4,284.8 L683.2,283.2 L684.0,281.6 L684.7,280.0 L685.3,278.4 L685.8,276.8 L686.3,275.2 L686.6,273.5 L686.9,271.9 L687.1,270.2 L687.2,268.5Z" fill="#2c4272"/><path d="M680.8,337.5 L680.8,338.8 L680.7,340.1 L680.6,341.5 L680.4,342.8 L680.1,344.2 L679.7,345.6 L679.2,347.0 L678.7,348.4 L678.1,349.8 L677.4,351.2 L676.7,352.6 L675.9,354.1 L675.0,355.5 L674.0,357.0 L673.1,358.5 L672.0,359.9 L670.9,361.4 L669.8,362.9 L668.6,364.4 L667.4,365.9 L666.2,367.4 L665.0,368.9 L663.7,370.4 L662.5,371.9 L661.2,373.4 L660.0,374.9 L658.8,376.4 L657.5,377.9 L656.3,379.4 L655.2,380.9 L654.0,382.5 L652.9,384.0 L651.9,385.5 L650.9,387.1 L649.9,388.6 L649.0,390.2 L648.2,391.8 L647.4,393.4 L646.7,395.0 L646.1,396.6 L645.6,398.2 L645.1,399.8 L644.8,401.5 L644.5,403.1 L644.3,404.8 L644.2,406.5 L650.6,406.5 L650.6,405.2 L650.7,403.9 L650.8,402.5 L651.0,401.2 L651.3,399.8 L651.7,398.4 L652.2,397.0 L652.7,395.6 L653.3,394.2 L654.0,392.8 L654.7,391.4 L655.5,389.9 L656.4,388.5 L657.4,387.0 L658.3,385.5 L659.4,384.1 L660.5,382.6 L661.6,381.1 L662.8,379.6 L664.0,378.1 L665.2,376.6 L666.4,375.1 L667.7,373.6 L668.9,372.1 L670.2,370.6 L671.4,369.1 L672.6,367.6 L673.9,366.1 L675.1,364.6 L676.2,363.1 L677.4,361.5 L678.5,360.0 L679.5,358.5 L680.5,356.9 L681.5,355.4 L682.4,353.8 L683.2,352.2 L684.0,350.6 L684.7,349.0 L685.3,347.4 L685.8,345.8 L686.3,344.2 L686.6,342.5 L686.9,340.9 L687.1,339.2 L687.2,337.5Z" fill="#2c4272"/><path d="M680.8,406.5 L680.8,407.8 L680.7,409.1 L680.6,410.5 L680.4,411.8 L680.1,413.2 L679.7,414.6 L679.2,416.0 L678.7,417.4 L678.1,418.8 L677.4,420.2 L676.7,421.6 L675.9,423.1 L675.0,424.5 L674.0,426.0 L673.1,427.5 L672.0,428.9 L670.9,430.4 L669.8,431.9 L668.6,433.4 L667.4,434.9 L666.2,436.4 L665.0,437.9 L663.7,439.4 L662.5,440.9 L661.2,442.4 L660.0,443.9 L658.8,445.4 L657.5,446.9 L656.3,448.4 L655.2,449.9 L654.0,451.5 L652.9,453.0 L651.9,454.5 L650.9,456.1 L649.9,457.6 L649.0,459.2 L648.2,460.8 L647.4,462.4 L646.7,464.0 L646.1,465.6 L645.6,467.2 L645.1,468.8 L644.8,470.5 L644.5,472.1 L644.3,473.8 L644.2,475.5 L650.6,475.5 L650.6,474.2 L650.7,472.9 L650.8,471.5 L651.0,470.2 L651.3,468.8 L651.7,467.4 L652.2,466.0 L652.7,464.6 L653.3,463.2 L654.0,461.8 L654.7,460.4 L655.5,458.9 L656.4,457.5 L657.4,456.0 L658.3,454.5 L659.4,453.1 L660.5,451.6 L661.6,450.1 L662.8,448.6 L664.0,447.1 L665.2,445.6 L666.4,444.1 L667.7,442.6 L668.9,441.1 L670.2,439.6 L671.4,438.1 L672.6,436.6 L673.9,435.1 L675.1,433.6 L676.2,432.1 L677.4,430.5 L678.5,429.0 L679.5,427.5 L680.5,425.9 L681.5,424.4 L682.4,422.8 L683.2,421.2 L684.0,419.6 L684.7,418.0 L685.3,416.4 L685.8,414.8 L686.3,413.2 L686.6,411.5 L686.9,409.9 L687.1,408.2 L687.2,406.5Z" fill="#2c4272"/><path d="M680.8,475.5 L680.8,475.7 L680.8,475.9 L687.2,476.1 L687.2,475.8 L687.2,475.5Z" fill="#2c4272"/><path d="M645.6,59.9 L645.5,61.1 L645.5,62.4 L649.3,62.2 L649.3,61.2 L649.3,60.1Z" fill="#425e94"/><path d="M682.1,60.8 L682.1,62.2 L682.1,63.6 L682.0,65.0 L681.8,66.4 L681.5,67.8 L681.1,69.2 L680.7,70.7 L680.2,72.1 L679.6,73.6 L678.9,75.0 L678.2,76.5 L677.4,78.0 L676.5,79.5 L675.6,81.0 L674.6,82.5 L673.6,84.0 L672.5,85.4 L671.4,86.9 L670.2,88.4 L669.1,89.9 L667.8,91.4 L666.6,92.9 L665.4,94.4 L664.1,96.0 L662.9,97.5 L661.6,99.0 L660.4,100.5 L659.2,102.0 L658.0,103.5 L656.8,105.0 L655.6,106.5 L654.5,108.0 L653.5,109.5 L652.5,111.0 L651.5,112.5 L650.6,114.1 L649.8,115.6 L649.0,117.1 L648.3,118.7 L647.6,120.2 L647.1,121.8 L646.6,123.4 L646.2,125.0 L645.9,126.5 L645.7,128.1 L645.5,129.7 L645.5,131.4 L649.3,131.2 L649.3,129.8 L649.3,128.4 L649.4,127.0 L649.6,125.6 L649.9,124.2 L650.3,122.8 L650.7,121.3 L651.2,119.9 L651.8,118.4 L652.5,117.0 L653.2,115.5 L654.0,114.0 L654.9,112.5 L655.8,111.0 L656.8,109.5 L657.8,108.0 L658.9,106.6 L660.0,105.1 L661.2,103.6 L662.3,102.1 L663.6,100.6 L664.8,99.1 L666.0,97.6 L667.3,96.0 L668.5,94.5 L669.8,93.0 L671.0,91.5 L672.2,90.0 L673.4,88.5 L674.6,87.0 L675.8,85.5 L676.9,84.0 L677.9,82.5 L678.9,81.0 L679.9,79.5 L680.8,77.9 L681.6,76.4 L682.4,74.9 L683.1,73.3 L683.8,71.8 L684.3,70.2 L684.8,68.6 L685.2,67.0 L685.5,65.5 L685.7,63.9 L685.9,62.3 L685.9,60.6Z" fill="#425e94"/><path d="M682.1,129.8 L682.1,131.2 L682.1,132.6 L682.0,134.0 L681.8,135.4 L681.5,136.8 L681.1,138.2 L680.7,139.7 L680.2,141.1 L679.6,142.6 L678.9,144.0 L678.2,145.5 L677.4,147.0 L676.5,148.5 L675.6,150.0 L674.6,151.5 L673.6,153.0 L672.5,154.4 L671.4,155.9 L670.2,157.4 L669.1,158.9 L667.8,160.4 L666.6,161.9 L665.4,163.4 L664.1,165.0 L662.9,166.5 L661.6,168.0 L660.4,169.5 L659.2,171.0 L658.0,172.5 L656.8,174.0 L655.6,175.5 L654.5,177.0 L653.5,178.5 L652.5,180.0 L651.5,181.5 L650.6,183.1 L649.8,184.6 L649.0,186.1 L648.3,187.7 L647.6,189.2 L647.1,190.8 L646.6,192.4 L646.2,194.0 L645.9,195.5 L645.7,197.1 L645.5,198.7 L645.5,200.4 L649.3,200.2 L649.3,198.8 L649.3,197.4 L649.4,196.0 L649.6,194.6 L649.9,193.2 L650.3,191.8 L650.7,190.3 L651.2,188.9 L651.8,187.4 L652.5,186.0 L653.2,184.5 L654.0,183.0 L654.9,181.5 L655.8,180.0 L656.8,178.5 L657.8,177.0 L658.9,175.6 L660.0,174.1 L661.2,172.6 L662.3,171.1 L663.6,169.6 L664.8,168.1 L666.0,166.6 L667.3,165.0 L668.5,163.5 L669.8,162.0 L671.0,160.5 L672.2,159.0 L673.4,157.5 L674.6,156.0 L675.8,154.5 L676.9,153.0 L677.9,151.5 L678.9,150.0 L679.9,148.5 L680.8,146.9 L681.6,145.4 L682.4,143.9 L683.1,142.3 L683.8,140.8 L684.3,139.2 L684.8,137.6 L685.2,136.0 L685.5,134.5 L685.7,132.9 L685.9,131.3 L685.9,129.6Z" fill="#425e94"/><path d="M682.1,198.8 L682.1,200.2 L682.1,201.6 L682.0,203.0 L681.8,204.4 L681.5,205.8 L681.1,207.2 L680.7,208.7 L680.2,210.1 L679.6,211.6 L678.9,213.0 L678.2,214.5 L677.4,216.0 L676.5,217.5 L675.6,219.0 L674.6,220.5 L673.6,222.0 L672.5,223.4 L671.4,224.9 L670.2,226.4 L669.1,227.9 L667.8,229.4 L666.6,230.9 L665.4,232.4 L664.1,234.0 L662.9,235.5 L661.6,237.0 L660.4,238.5 L659.2,240.0 L658.0,241.5 L656.8,243.0 L655.6,244.5 L654.5,246.0 L653.5,247.5 L652.5,249.0 L651.5,250.5 L650.6,252.1 L649.8,253.6 L649.0,255.1 L648.3,256.7 L647.6,258.2 L647.1,259.8 L646.6,261.4 L646.2,263.0 L645.9,264.5 L645.7,266.1 L645.5,267.7 L645.5,269.4 L649.3,269.2 L649.3,267.8 L649.3,266.4 L649.4,265.0 L649.6,263.6 L649.9,262.2 L650.3,260.8 L650.7,259.3 L651.2,257.9 L651.8,256.4 L652.5,255.0 L653.2,253.5 L654.0,252.0 L654.9,250.5 L655.8,249.0 L656.8,247.5 L657.8,246.0 L658.9,244.6 L660.0,243.1 L661.2,241.6 L662.3,240.1 L663.6,238.6 L664.8,237.1 L666.0,235.6 L667.3,234.0 L668.5,232.5 L669.8,231.0 L671.0,229.5 L672.2,228.0 L673.4,226.5 L674.6,225.0 L675.8,223.5 L676.9,222.0 L677.9,220.5 L678.9,219.0 L679.9,217.5 L680.8,215.9 L681.6,214.4 L682.4,212.9 L683.1,211.3 L683.8,209.8 L684.3,208.2 L684.8,206.6 L685.2,205.0 L685.5,203.5 L685.7,201.9 L685.9,200.3 L685.9,198.6Z" fill="#425e94"/><path d="M682.1,267.8 L682.1,269.2 L682.1,270.6 L682.0,272.0 L681.8,273.4 L681.5,274.8 L681.1,276.2 L680.7,277.7 L680.2,279.1 L679.6,280.6 L678.9,282.0 L678.2,283.5 L677.4,285.0 L676.5,286.5 L675.6,288.0 L674.6,289.5 L673.6,291.0 L672.5,292.4 L671.4,293.9 L670.2,295.4 L669.1,296.9 L667.8,298.4 L666.6,299.9 L665.4,301.4 L664.1,303.0 L662.9,304.5 L661.6,306.0 L660.4,307.5 L659.2,309.0 L658.0,310.5 L656.8,312.0 L655.6,313.5 L654.5,315.0 L653.5,316.5 L652.5,318.0 L651.5,319.5 L650.6,321.1 L649.8,322.6 L649.0,324.1 L648.3,325.7 L647.6,327.2 L647.1,328.8 L646.6,330.4 L646.2,332.0 L645.9,333.5 L645.7,335.1 L645.5,336.7 L645.5,338.4 L649.3,338.2 L649.3,336.8 L649.3,335.4 L649.4,334.0 L649.6,332.6 L649.9,331.2 L650.3,329.8 L650.7,328.3 L651.2,326.9 L651.8,325.4 L652.5,324.0 L653.2,322.5 L654.0,321.0 L654.9,319.5 L655.8,318.0 L656.8,316.5 L657.8,315.0 L658.9,313.6 L660.0,312.1 L661.2,310.6 L662.3,309.1 L663.6,307.6 L664.8,306.1 L666.0,304.6 L667.3,303.0 L668.5,301.5 L669.8,300.0 L671.0,298.5 L672.2,297.0 L673.4,295.5 L674.6,294.0 L675.8,292.5 L676.9,291.0 L677.9,289.5 L678.9,288.0 L679.9,286.5 L680.8,284.9 L681.6,283.4 L682.4,281.9 L683.1,280.3 L683.8,278.8 L684.3,277.2 L684.8,275.6 L685.2,274.0 L685.5,272.5 L685.7,270.9 L685.9,269.3 L685.9,267.6Z" fill="#425e94"/><path d="M682.1,336.8 L682.1,338.2 L682.1,339.6 L682.0,341.0 L681.8,342.4 L681.5,343.8 L681.1,345.2 L680.7,346.7 L680.2,348.1 L679.6,349.6 L678.9,351.0 L678.2,352.5 L677.4,354.0 L676.5,355.5 L675.6,357.0 L674.6,358.5 L673.6,360.0 L672.5,361.4 L671.4,362.9 L670.2,364.4 L669.1,365.9 L667.8,367.4 L666.6,368.9 L665.4,370.4 L664.1,372.0 L662.9,373.5 L661.6,375.0 L660.4,376.5 L659.2,378.0 L658.0,379.5 L656.8,381.0 L655.6,382.5 L654.5,384.0 L653.5,385.5 L652.5,387.0 L651.5,388.5 L650.6,390.1 L649.8,391.6 L649.0,393.1 L648.3,394.7 L647.6,396.2 L647.1,397.8 L646.6,399.4 L646.2,401.0 L645.9,402.5 L645.7,404.1 L645.5,405.7 L645.5,407.4 L649.3,407.2 L649.3,405.8 L649.3,404.4 L649.4,403.0 L649.6,401.6 L649.9,400.2 L650.3,398.8 L650.7,397.3 L651.2,395.9 L651.8,394.4 L652.5,393.0 L653.2,391.5 L654.0,390.0 L654.9,388.5 L655.8,387.0 L656.8,385.5 L657.8,384.0 L658.9,382.6 L660.0,381.1 L661.2,379.6 L662.3,378.1 L663.6,376.6 L664.8,375.1 L666.0,373.6 L667.3,372.0 L668.5,370.5 L669.8,369.0 L671.0,367.5 L672.2,366.0 L673.4,364.5 L674.6,363.0 L675.8,361.5 L676.9,360.0 L677.9,358.5 L678.9,357.0 L679.9,355.5 L680.8,353.9 L681.6,352.4 L682.4,350.9 L683.1,349.3 L683.8,347.8 L684.3,346.2 L684.8,344.6 L685.2,343.0 L685.5,341.5 L685.7,339.9 L685.9,338.3 L685.9,336.6Z" fill="#425e94"/><path d="M682.1,405.8 L682.1,407.2 L682.1,408.6 L682.0,410.0 L681.8,411.5 L681.5,412.9 L681.1,414.4 L680.7,415.8 L680.1,417.3 L679.5,418.8 L678.8,420.3 L678.1,421.8 L677.2,423.3 L676.3,424.8 L675.4,426.3 L674.4,427.8 L673.3,429.4 L672.2,430.9 L671.0,432.4 L669.9,433.9 L668.6,435.5 L667.4,437.0 L666.1,438.5 L664.9,440.0 L663.6,441.6 L662.3,443.1 L661.1,444.6 L659.8,446.2 L658.6,447.7 L657.4,449.2 L656.2,450.8 L655.0,452.3 L653.9,453.8 L652.9,455.4 L651.9,456.9 L650.9,458.5 L650.1,460.0 L649.2,461.6 L648.5,463.2 L647.8,464.7 L647.2,466.3 L646.7,467.9 L646.3,469.5 L646.0,471.1 L645.7,472.8 L645.6,474.4 L645.5,476.0 L649.3,476.0 L649.3,474.5 L649.3,473.1 L649.5,471.7 L649.7,470.2 L650.0,468.8 L650.4,467.3 L650.8,465.9 L651.4,464.4 L652.0,462.9 L652.7,461.4 L653.5,459.9 L654.3,458.4 L655.2,456.9 L656.2,455.4 L657.2,453.9 L658.3,452.3 L659.4,450.8 L660.6,449.3 L661.8,447.8 L663.0,446.2 L664.3,444.7 L665.5,443.2 L666.8,441.7 L668.1,440.1 L669.3,438.6 L670.6,437.1 L671.8,435.5 L673.1,434.0 L674.3,432.5 L675.4,430.9 L676.6,429.4 L677.7,427.9 L678.7,426.3 L679.7,424.8 L680.6,423.2 L681.5,421.7 L682.3,420.1 L683.0,418.5 L683.7,416.9 L684.3,415.4 L684.8,413.8 L685.2,412.2 L685.5,410.5 L685.7,408.9 L685.9,407.3 L685.9,405.6Z" fill="#425e94"/><path d="M682.1,474.8 L682.1,475.4 L682.1,476.0 L685.9,476.0 L685.9,475.3 L685.9,474.6Z" fill="#425e94"/><path d="M680.7,60.2 L680.8,60.8 L680.8,61.5 L687.2,61.5 L687.2,60.7 L687.2,59.8Z" fill="#2c4272"/><path d="M644.2,61.5 L644.2,63.2 L644.3,64.9 L644.5,66.6 L644.8,68.2 L645.2,69.9 L645.6,71.6 L646.2,73.3 L646.8,74.9 L647.5,76.5 L648.3,78.2 L649.2,79.8 L650.1,81.4 L651.0,83.0 L652.1,84.6 L653.1,86.2 L654.2,87.7 L655.4,89.3 L656.6,90.9 L657.8,92.4 L659.0,93.9 L660.2,95.4 L661.5,97.0 L662.7,98.5 L664.0,100.0 L665.2,101.4 L666.5,102.9 L667.7,104.4 L668.8,105.9 L670.0,107.3 L671.1,108.7 L672.1,110.2 L673.2,111.6 L674.1,113.0 L675.1,114.4 L675.9,115.8 L676.7,117.2 L677.4,118.5 L678.1,119.9 L678.7,121.3 L679.2,122.6 L679.7,123.9 L680.0,125.2 L680.3,126.6 L680.6,127.9 L680.7,129.2 L680.8,130.5 L687.2,130.5 L687.2,128.8 L687.1,127.1 L686.9,125.4 L686.6,123.8 L686.2,122.1 L685.8,120.4 L685.2,118.7 L684.6,117.1 L683.9,115.5 L683.1,113.8 L682.2,112.2 L681.3,110.6 L680.4,109.0 L679.3,107.4 L678.3,105.8 L677.2,104.3 L676.0,102.7 L674.8,101.1 L673.6,99.6 L672.4,98.1 L671.2,96.6 L669.9,95.0 L668.7,93.5 L667.4,92.0 L666.2,90.6 L664.9,89.1 L663.7,87.6 L662.6,86.1 L661.4,84.7 L660.3,83.3 L659.3,81.8 L658.2,80.4 L657.3,79.0 L656.3,77.6 L655.5,76.2 L654.7,74.8 L654.0,73.5 L653.3,72.1 L652.7,70.7 L652.2,69.4 L651.7,68.1 L651.4,66.8 L651.1,65.4 L650.8,64.1 L650.7,62.8 L650.6,61.5Z" fill="#2c4272"/><path d="M644.2,130.5 L644.2,132.2 L644.3,133.9 L644.5,135.6 L644.8,137.2 L645.2,138.9 L645.6,140.6 L646.2,142.3 L646.8,143.9 L647.5,145.5 L648.3,147.2 L649.2,148.8 L650.1,150.4 L651.0,152.0 L652.1,153.6 L653.1,155.2 L654.2,156.7 L655.4,158.3 L656.6,159.9 L657.8,161.4 L659.0,162.9 L660.2,164.4 L661.5,166.0 L662.7,167.5 L664.0,169.0 L665.2,170.4 L666.5,171.9 L667.7,173.4 L668.8,174.9 L670.0,176.3 L671.1,177.7 L672.1,179.2 L673.2,180.6 L674.1,182.0 L675.1,183.4 L675.9,184.8 L676.7,186.2 L677.4,187.5 L678.1,188.9 L678.7,190.3 L679.2,191.6 L679.7,192.9 L680.0,194.2 L680.3,195.6 L680.6,196.9 L680.7,198.2 L680.8,199.5 L687.2,199.5 L687.2,197.8 L687.1,196.1 L686.9,194.4 L686.6,192.8 L686.2,191.1 L685.8,189.4 L685.2,187.7 L684.6,186.1 L683.9,184.5 L683.1,182.8 L682.2,181.2 L681.3,179.6 L680.4,178.0 L679.3,176.4 L678.3,174.8 L677.2,173.3 L676.0,171.7 L674.8,170.1 L673.6,168.6 L672.4,167.1 L671.2,165.6 L669.9,164.0 L668.7,162.5 L667.4,161.0 L666.2,159.6 L664.9,158.1 L663.7,156.6 L662.6,155.1 L661.4,153.7 L660.3,152.3 L659.3,150.8 L658.2,149.4 L657.3,148.0 L656.3,146.6 L655.5,145.2 L654.7,143.8 L654.0,142.5 L653.3,141.1 L652.7,139.7 L652.2,138.4 L651.7,137.1 L651.4,135.8 L651.1,134.4 L650.8,133.1 L650.7,131.8 L650.6,130.5Z" fill="#2c4272"/><path d="M644.2,199.5 L644.2,201.2 L644.3,202.9 L644.5,204.6 L644.8,206.2 L645.2,207.9 L645.6,209.6 L646.2,211.3 L646.8,212.9 L647.5,214.5 L648.3,216.2 L649.2,217.8 L650.1,219.4 L651.0,221.0 L652.1,222.6 L653.1,224.2 L654.2,225.7 L655.4,227.3 L656.6,228.9 L657.8,230.4 L659.0,231.9 L660.2,233.4 L661.5,235.0 L662.7,236.5 L664.0,238.0 L665.2,239.4 L666.5,240.9 L667.7,242.4 L668.8,243.9 L670.0,245.3 L671.1,246.7 L672.1,248.2 L673.2,249.6 L674.1,251.0 L675.1,252.4 L675.9,253.8 L676.7,255.2 L677.4,256.5 L678.1,257.9 L678.7,259.3 L679.2,260.6 L679.7,261.9 L680.0,263.2 L680.3,264.6 L680.6,265.9 L680.7,267.2 L680.8,268.5 L687.2,268.5 L687.2,266.8 L687.1,265.1 L686.9,263.4 L686.6,261.8 L686.2,260.1 L685.8,258.4 L685.2,256.7 L684.6,255.1 L683.9,253.5 L683.1,251.8 L682.2,250.2 L681.3,248.6 L680.4,247.0 L679.3,245.4 L678.3,243.8 L677.2,242.3 L676.0,240.7 L674.8,239.1 L673.6,237.6 L672.4,236.1 L671.2,234.6 L669.9,233.0 L668.7,231.5 L667.4,230.0 L666.2,228.6 L664.9,227.1 L663.7,225.6 L662.6,224.1 L661.4,222.7 L660.3,221.3 L659.3,219.8 L658.2,218.4 L657.3,217.0 L656.3,215.6 L655.5,214.2 L654.7,212.8 L654.0,211.5 L653.3,210.1 L652.7,208.7 L652.2,207.4 L651.7,206.1 L651.4,204.8 L651.1,203.4 L650.8,202.1 L650.7,200.8 L650.6,199.5Z" fill="#2c4272"/><path d="M644.2,268.5 L644.2,270.2 L644.3,271.9 L644.5,273.6 L644.8,275.2 L645.2,276.9 L645.6,278.6 L646.2,280.3 L646.8,281.9 L647.5,283.5 L648.3,285.2 L649.2,286.8 L650.1,288.4 L651.0,290.0 L652.1,291.6 L653.1,293.2 L654.2,294.7 L655.4,296.3 L656.6,297.9 L657.8,299.4 L659.0,300.9 L660.2,302.4 L661.5,304.0 L662.7,305.5 L664.0,307.0 L665.2,308.4 L666.5,309.9 L667.7,311.4 L668.8,312.9 L670.0,314.3 L671.1,315.7 L672.1,317.2 L673.2,318.6 L674.1,320.0 L675.1,321.4 L675.9,322.8 L676.7,324.2 L677.4,325.5 L678.1,326.9 L678.7,328.3 L679.2,329.6 L679.7,330.9 L680.0,332.2 L680.3,333.6 L680.6,334.9 L680.7,336.2 L680.8,337.5 L687.2,337.5 L687.2,335.8 L687.1,334.1 L686.9,332.4 L686.6,330.8 L686.2,329.1 L685.8,327.4 L685.2,325.7 L684.6,324.1 L683.9,322.5 L683.1,320.8 L682.2,319.2 L681.3,317.6 L680.4,316.0 L679.3,314.4 L678.3,312.8 L677.2,311.3 L676.0,309.7 L674.8,308.1 L673.6,306.6 L672.4,305.1 L671.2,303.6 L669.9,302.0 L668.7,300.5 L667.4,299.0 L666.2,297.6 L664.9,296.1 L663.7,294.6 L662.6,293.1 L661.4,291.7 L660.3,290.3 L659.3,288.8 L658.2,287.4 L657.3,286.0 L656.3,284.6 L655.5,283.2 L654.7,281.8 L654.0,280.5 L653.3,279.1 L652.7,277.7 L652.2,276.4 L651.7,275.1 L651.4,273.8 L651.1,272.4 L650.8,271.1 L650.7,269.8 L650.6,268.5Z" fill="#2c4272"/><path d="M644.2,337.5 L644.2,339.2 L644.3,340.9 L644.5,342.6 L644.8,344.2 L645.2,345.9 L645.6,347.6 L646.2,349.3 L646.8,350.9 L647.5,352.5 L648.3,354.2 L649.2,355.8 L650.1,357.4 L651.0,359.0 L652.1,360.6 L653.1,362.2 L654.2,363.7 L655.4,365.3 L656.6,366.9 L657.8,368.4 L659.0,369.9 L660.2,371.4 L661.5,373.0 L662.7,374.5 L664.0,376.0 L665.2,377.4 L666.5,378.9 L667.7,380.4 L668.8,381.9 L670.0,383.3 L671.1,384.7 L672.1,386.2 L673.2,387.6 L674.1,389.0 L675.1,390.4 L675.9,391.8 L676.7,393.2 L677.4,394.5 L678.1,395.9 L678.7,397.3 L679.2,398.6 L679.7,399.9 L680.0,401.2 L680.3,402.6 L680.6,403.9 L680.7,405.2 L680.8,406.5 L687.2,406.5 L687.2,404.8 L687.1,403.1 L686.9,401.4 L686.6,399.8 L686.2,398.1 L685.8,396.4 L685.2,394.7 L684.6,393.1 L683.9,391.5 L683.1,389.8 L682.2,388.2 L681.3,386.6 L680.4,385.0 L679.3,383.4 L678.3,381.8 L677.2,380.3 L676.0,378.7 L674.8,377.1 L673.6,375.6 L672.4,374.1 L671.2,372.6 L669.9,371.0 L668.7,369.5 L667.4,368.0 L666.2,366.6 L664.9,365.1 L663.7,363.6 L662.6,362.1 L661.4,360.7 L660.3,359.3 L659.3,357.8 L658.2,356.4 L657.3,355.0 L656.3,353.6 L655.5,352.2 L654.7,350.8 L654.0,349.5 L653.3,348.1 L652.7,346.7 L652.2,345.4 L651.7,344.1 L651.4,342.8 L651.1,341.4 L650.8,340.1 L650.7,338.8 L650.6,337.5Z" fill="#2c4272"/><path d="M644.2,406.5 L644.2,408.2 L644.3,409.9 L644.5,411.6 L644.8,413.2 L645.2,414.9 L645.6,416.6 L646.2,418.3 L646.8,419.9 L647.5,421.5 L648.3,423.2 L649.2,424.8 L650.1,426.4 L651.0,428.0 L652.1,429.6 L653.1,431.2 L654.2,432.7 L655.4,434.3 L656.6,435.9 L657.8,437.4 L659.0,438.9 L660.2,440.4 L661.5,442.0 L662.7,443.5 L664.0,445.0 L665.2,446.4 L666.5,447.9 L667.7,449.4 L668.8,450.9 L670.0,452.3 L671.1,453.7 L672.1,455.2 L673.2,456.6 L674.1,458.0 L675.1,459.4 L675.9,460.8 L676.7,462.2 L677.4,463.5 L678.1,464.9 L678.7,466.3 L679.2,467.6 L679.7,468.9 L680.0,470.2 L680.3,471.6 L680.6,472.9 L680.7,474.2 L680.8,475.5 L687.2,475.5 L687.2,473.8 L687.1,472.1 L686.9,470.4 L686.6,468.8 L686.2,467.1 L685.8,465.4 L685.2,463.7 L684.6,462.1 L683.9,460.5 L683.1,458.8 L682.2,457.2 L681.3,455.6 L680.4,454.0 L679.3,452.4 L678.3,450.8 L677.2,449.3 L676.0,447.7 L674.8,446.1 L673.6,444.6 L672.4,443.1 L671.2,441.6 L669.9,440.0 L668.7,438.5 L667.4,437.0 L666.2,435.6 L664.9,434.1 L663.7,432.6 L662.6,431.1 L661.4,429.7 L660.3,428.3 L659.3,426.8 L658.2,425.4 L657.3,424.0 L656.3,422.6 L655.5,421.2 L654.7,419.8 L654.0,418.5 L653.3,417.1 L652.7,415.7 L652.2,414.4 L651.7,413.1 L651.4,411.8 L651.1,410.4 L650.8,409.1 L650.7,407.8 L650.6,406.5Z" fill="#2c4272"/><path d="M644.2,475.5 L644.2,475.8 L644.2,476.1 L650.6,475.9 L650.6,475.7 L650.6,475.5Z" fill="#2c4272"/><path d="M682.0,60.1 L682.1,61.2 L682.1,62.2 L685.9,62.4 L685.9,61.1 L685.9,59.9Z" fill="#4968a0"/><path d="M645.5,60.6 L645.5,62.3 L645.5,63.9 L645.7,65.5 L645.9,67.1 L646.2,68.7 L646.6,70.3 L647.1,71.9 L647.7,73.6 L648.3,75.2 L649.1,76.8 L649.9,78.3 L650.7,79.9 L651.6,81.5 L652.6,83.1 L653.6,84.6 L654.7,86.2 L655.8,87.7 L657.0,89.3 L658.2,90.8 L659.4,92.3 L660.6,93.9 L661.9,95.4 L663.1,96.9 L664.4,98.4 L665.6,99.9 L666.9,101.4 L668.1,102.9 L669.3,104.3 L670.4,105.8 L671.6,107.3 L672.7,108.7 L673.7,110.2 L674.8,111.6 L675.7,113.0 L676.6,114.5 L677.5,115.9 L678.2,117.3 L679.0,118.7 L679.6,120.1 L680.2,121.5 L680.7,122.9 L681.1,124.3 L681.5,125.7 L681.8,127.1 L681.9,128.5 L682.1,129.8 L682.1,131.2 L685.9,131.4 L685.9,129.7 L685.9,128.1 L685.7,126.5 L685.5,124.9 L685.2,123.3 L684.8,121.7 L684.3,120.1 L683.7,118.4 L683.1,116.8 L682.3,115.2 L681.5,113.7 L680.7,112.1 L679.8,110.5 L678.8,108.9 L677.8,107.4 L676.7,105.8 L675.6,104.3 L674.4,102.7 L673.2,101.2 L672.0,99.7 L670.8,98.1 L669.5,96.6 L668.3,95.1 L667.0,93.6 L665.8,92.1 L664.5,90.6 L663.3,89.1 L662.1,87.7 L661.0,86.2 L659.8,84.7 L658.7,83.3 L657.7,81.8 L656.6,80.4 L655.7,79.0 L654.8,77.5 L653.9,76.1 L653.2,74.7 L652.4,73.3 L651.8,71.9 L651.2,70.5 L650.7,69.1 L650.3,67.7 L649.9,66.3 L649.6,64.9 L649.5,63.5 L649.3,62.2 L649.3,60.8Z" fill="#4968a0"/><path d="M645.5,129.6 L645.5,131.3 L645.5,132.9 L645.7,134.5 L645.9,136.1 L646.2,137.7 L646.6,139.3 L647.1,140.9 L647.7,142.6 L648.3,144.2 L649.1,145.8 L649.9,147.3 L650.7,148.9 L651.6,150.5 L652.6,152.1 L653.6,153.6 L654.7,155.2 L655.8,156.7 L657.0,158.3 L658.2,159.8 L659.4,161.3 L660.6,162.9 L661.9,164.4 L663.1,165.9 L664.4,167.4 L665.6,168.9 L666.9,170.4 L668.1,171.9 L669.3,173.3 L670.4,174.8 L671.6,176.3 L672.7,177.7 L673.7,179.2 L674.8,180.6 L675.7,182.0 L676.6,183.5 L677.5,184.9 L678.2,186.3 L679.0,187.7 L679.6,189.1 L680.2,190.5 L680.7,191.9 L681.1,193.3 L681.5,194.7 L681.8,196.1 L681.9,197.5 L682.1,198.8 L682.1,200.2 L685.9,200.4 L685.9,198.7 L685.9,197.1 L685.7,195.5 L685.5,193.9 L685.2,192.3 L684.8,190.7 L684.3,189.1 L683.7,187.4 L683.1,185.8 L682.3,184.2 L681.5,182.7 L680.7,181.1 L679.8,179.5 L678.8,177.9 L677.8,176.4 L676.7,174.8 L675.6,173.3 L674.4,171.7 L673.2,170.2 L672.0,168.7 L670.8,167.1 L669.5,165.6 L668.3,164.1 L667.0,162.6 L665.8,161.1 L664.5,159.6 L663.3,158.1 L662.1,156.7 L661.0,155.2 L659.8,153.7 L658.7,152.3 L657.7,150.8 L656.6,149.4 L655.7,148.0 L654.8,146.5 L653.9,145.1 L653.2,143.7 L652.4,142.3 L651.8,140.9 L651.2,139.5 L650.7,138.1 L650.3,136.7 L649.9,135.3 L649.6,133.9 L649.5,132.5 L649.3,131.2 L649.3,129.8Z" fill="#4968a0"/><path d="M645.5,198.6 L645.5,200.3 L645.5,201.9 L645.7,203.5 L645.9,205.1 L646.2,206.7 L646.6,208.3 L647.1,209.9 L647.7,211.6 L648.3,213.2 L649.1,214.8 L649.9,216.3 L650.7,217.9 L651.6,219.5 L652.6,221.1 L653.6,222.6 L654.7,224.2 L655.8,225.7 L657.0,227.3 L658.2,228.8 L659.4,230.3 L660.6,231.9 L661.9,233.4 L663.1,234.9 L664.4,236.4 L665.6,237.9 L666.9,239.4 L668.1,240.9 L669.3,242.3 L670.4,243.8 L671.6,245.3 L672.7,246.7 L673.7,248.2 L674.8,249.6 L675.7,251.0 L676.6,252.5 L677.5,253.9 L678.2,255.3 L679.0,256.7 L679.6,258.1 L680.2,259.5 L680.7,260.9 L681.1,262.3 L681.5,263.7 L681.8,265.1 L681.9,266.5 L682.1,267.8 L682.1,269.2 L685.9,269.4 L685.9,267.7 L685.9,266.1 L685.7,264.5 L685.5,262.9 L685.2,261.3 L684.8,259.7 L684.3,258.1 L683.7,256.4 L683.1,254.8 L682.3,253.2 L681.5,251.7 L680.7,250.1 L679.8,248.5 L678.8,246.9 L677.8,245.4 L676.7,243.8 L675.6,242.3 L674.4,240.7 L673.2,239.2 L672.0,237.7 L670.8,236.1 L669.5,234.6 L668.3,233.1 L667.0,231.6 L665.8,230.1 L664.5,228.6 L663.3,227.1 L662.1,225.7 L661.0,224.2 L659.8,222.7 L658.7,221.3 L657.7,219.8 L656.6,218.4 L655.7,217.0 L654.8,215.5 L653.9,214.1 L653.2,212.7 L652.4,211.3 L651.8,209.9 L651.2,208.5 L650.7,207.1 L650.3,205.7 L649.9,204.3 L649.6,202.9 L649.5,201.5 L649.3,200.2 L649.3,198.8Z" fill="#4968a0"/><path d="M645.5,267.6 L645.5,269.3 L645.5,270.9 L645.7,272.5 L645.9,274.1 L646.2,275.7 L646.6,277.3 L647.1,278.9 L647.7,280.6 L648.3,282.2 L649.1,283.8 L649.9,285.3 L650.7,286.9 L651.6,288.5 L652.6,290.1 L653.6,291.6 L654.7,293.2 L655.8,294.7 L657.0,296.3 L658.2,297.8 L659.4,299.3 L660.6,300.9 L661.9,302.4 L663.1,303.9 L664.4,305.4 L665.6,306.9 L666.9,308.4 L668.1,309.9 L669.3,311.3 L670.4,312.8 L671.6,314.3 L672.7,315.7 L673.7,317.2 L674.8,318.6 L675.7,320.0 L676.6,321.5 L677.5,322.9 L678.2,324.3 L679.0,325.7 L679.6,327.1 L680.2,328.5 L680.7,329.9 L681.1,331.3 L681.5,332.7 L681.8,334.1 L681.9,335.5 L682.1,336.8 L682.1,338.2 L685.9,338.4 L685.9,336.7 L685.9,335.1 L685.7,333.5 L685.5,331.9 L685.2,330.3 L684.8,328.7 L684.3,327.1 L683.7,325.4 L683.1,323.8 L682.3,322.2 L681.5,320.7 L680.7,319.1 L679.8,317.5 L678.8,315.9 L677.8,314.4 L676.7,312.8 L675.6,311.3 L674.4,309.7 L673.2,308.2 L672.0,306.7 L670.8,305.1 L669.5,303.6 L668.3,302.1 L667.0,300.6 L665.8,299.1 L664.5,297.6 L663.3,296.1 L662.1,294.7 L661.0,293.2 L659.8,291.7 L658.7,290.3 L657.7,288.8 L656.6,287.4 L655.7,286.0 L654.8,284.5 L653.9,283.1 L653.2,281.7 L652.4,280.3 L651.8,278.9 L651.2,277.5 L650.7,276.1 L650.3,274.7 L649.9,273.3 L649.6,271.9 L649.5,270.5 L649.3,269.2 L649.3,267.8Z" fill="#4968a0"/><path d="M645.5,336.6 L645.5,338.3 L645.5,339.9 L645.7,341.5 L645.9,343.1 L646.2,344.7 L646.6,346.3 L647.1,347.9 L647.7,349.6 L648.3,351.2 L649.1,352.8 L649.9,354.3 L650.7,355.9 L651.6,357.5 L652.6,359.1 L653.6,360.6 L654.7,362.2 L655.8,363.7 L657.0,365.3 L658.2,366.8 L659.4,368.3 L660.6,369.9 L661.9,371.4 L663.1,372.9 L664.4,374.4 L665.6,375.9 L666.9,377.4 L668.1,378.9 L669.3,380.3 L670.4,381.8 L671.6,383.3 L672.7,384.7 L673.7,386.2 L674.8,387.6 L675.7,389.0 L676.6,390.5 L677.5,391.9 L678.2,393.3 L679.0,394.7 L679.6,396.1 L680.2,397.5 L680.7,398.9 L681.1,400.3 L681.5,401.7 L681.8,403.1 L681.9,404.5 L682.1,405.8 L682.1,407.2 L685.9,407.4 L685.9,405.7 L685.9,404.1 L685.7,402.5 L685.5,400.9 L685.2,399.3 L684.8,397.7 L684.3,396.1 L683.7,394.4 L683.1,392.8 L682.3,391.2 L681.5,389.7 L680.7,388.1 L679.8,386.5 L678.8,384.9 L677.8,383.4 L676.7,381.8 L675.6,380.3 L674.4,378.7 L673.2,377.2 L672.0,375.7 L670.8,374.1 L669.5,372.6 L668.3,371.1 L667.0,369.6 L665.8,368.1 L664.5,366.6 L663.3,365.1 L662.1,363.7 L661.0,362.2 L659.8,360.7 L658.7,359.3 L657.7,357.8 L656.6,356.4 L655.7,355.0 L654.8,353.5 L653.9,352.1 L653.2,350.7 L652.4,349.3 L651.8,347.9 L651.2,346.5 L650.7,345.1 L650.3,343.7 L649.9,342.3 L649.6,340.9 L649.5,339.5 L649.3,338.2 L649.3,336.8Z" fill="#4968a0"/><path d="M645.5,405.6 L645.5,407.3 L645.5,408.9 L645.7,410.6 L645.9,412.2 L646.2,413.9 L646.7,415.5 L647.2,417.1 L647.8,418.8 L648.4,420.4 L649.2,422.0 L650.0,423.6 L650.9,425.3 L651.9,426.9 L652.9,428.4 L653.9,430.0 L655.0,431.6 L656.2,433.2 L657.4,434.8 L658.6,436.3 L659.8,437.9 L661.1,439.4 L662.3,441.0 L663.6,442.5 L664.9,444.0 L666.2,445.5 L667.4,447.0 L668.6,448.5 L669.8,450.0 L671.0,451.5 L672.2,453.0 L673.3,454.5 L674.3,456.0 L675.3,457.4 L676.3,458.9 L677.1,460.3 L678.0,461.8 L678.7,463.2 L679.4,464.6 L680.0,466.1 L680.5,467.5 L681.0,468.9 L681.4,470.3 L681.7,471.7 L681.9,473.1 L682.1,474.5 L682.1,476.0 L685.9,476.0 L685.9,474.4 L685.8,472.8 L685.7,471.1 L685.4,469.5 L685.1,467.8 L684.6,466.2 L684.1,464.5 L683.5,462.9 L682.8,461.3 L682.1,459.7 L681.2,458.0 L680.3,456.4 L679.4,454.8 L678.3,453.2 L677.3,451.7 L676.1,450.1 L675.0,448.5 L673.8,446.9 L672.6,445.4 L671.3,443.8 L670.1,442.3 L668.8,440.7 L667.5,439.2 L666.3,437.7 L665.0,436.2 L663.8,434.7 L662.5,433.2 L661.3,431.7 L660.2,430.2 L659.0,428.7 L657.9,427.2 L656.9,425.7 L655.9,424.3 L655.0,422.8 L654.1,421.4 L653.3,419.9 L652.5,418.5 L651.9,417.1 L651.3,415.7 L650.8,414.2 L650.3,412.8 L649.9,411.4 L649.7,410.0 L649.5,408.6 L649.3,407.2 L649.3,405.8Z" fill="#4968a0"/><path d="M645.5,474.6 L645.5,475.3 L645.5,476.0 L649.3,476.0 L649.3,475.4 L649.3,474.8Z" fill="#4968a0"/><path d="M293.8,133.9 L309,125.9 L304,133.9 L309,141.9 Z" fill="#74a748"/><rect x="305.5" y="132.20" width="9.50" height="3.4" fill="#74a748"/><rect x="318.5" y="132.20" width="11.00" height="3.4" fill="#b7d39b"/><rect x="329.5" y="132.20" width="4.50" height="3.4" fill="#e9a070"/><rect x="334" y="132.20" width="10.00" height="3.4" fill="#a75aa6"/><rect x="344" y="132.20" width="11.00" height="3.4" fill="#f1b06a"/><rect x="357.5" y="132.20" width="10.00" height="3.4" fill="#e9802c"/><path d="M379,133.9 L364,125.9 L368.5,133.9 L364,141.9 Z" fill="#e9802c"/><path d="M293.8,292 L309,284 L304,292 L309,300 Z" fill="#74a748"/><rect x="305.5" y="290.30" width="9.50" height="3.4" fill="#74a748"/><rect x="318.5" y="290.30" width="11.00" height="3.4" fill="#b7d39b"/><rect x="329.5" y="290.30" width="12.50" height="3.4" fill="#d8683e"/><rect x="342" y="290.30" width="12.50" height="3.4" fill="#f1b06a"/><rect x="357.5" y="290.30" width="10.00" height="3.4" fill="#e9802c"/><path d="M379,292 L364,284 L368.5,292 L364,300 Z" fill="#e9802c"/><path d="M293.8,452.3 L309,444.3 L304,452.3 L309,460.3 Z" fill="#74a748"/><rect x="305.5" y="450.60" width="9.50" height="3.4" fill="#74a748"/><rect x="318.5" y="450.60" width="11.00" height="3.4" fill="#b7d39b"/><rect x="329.5" y="450.60" width="10.50" height="3.4" fill="#5fa6a6"/><rect x="342.5" y="450.60" width="12.00" height="3.4" fill="#f1b06a"/><rect x="357.5" y="450.60" width="10.00" height="3.4" fill="#e9802c"/><path d="M379,452.3 L364,444.3 L368.5,452.3 L364,460.3 Z" fill="#e9802c"/><path d="M626,134 L639.5,126 L634,134 L639.5,142 Z" fill="#e9802c"/><rect x="637.5" y="132.30" width="10.00" height="3.4" fill="#e9802c"/><rect x="650.5" y="132.30" width="13.00" height="3.4" fill="#f1b06a"/><rect x="663.5" y="132.30" width="10.50" height="3.4" fill="#a24ea0"/><rect x="674.5" y="132.30" width="11.50" height="3.4" fill="#a9c0e1"/><rect x="688.5" y="132.30" width="5.50" height="3.4" fill="#4b71aa"/><path d="M706.7,134 L692.5,126 L697,134 L692.5,142 Z" fill="#4b71aa"/><path d="M623.5,293 L639.5,285 L634,293 L639.5,301 Z" fill="#e9802c"/><rect x="637.5" y="291.30" width="10.00" height="3.4" fill="#e9802c"/><rect x="650.5" y="291.30" width="13.00" height="3.4" fill="#f1b06a"/><rect x="663.5" y="291.30" width="10.50" height="3.4" fill="#d8683e"/><rect x="674.5" y="291.30" width="11.50" height="3.4" fill="#a9c0e1"/><rect x="688.5" y="291.30" width="5.50" height="3.4" fill="#4b71aa"/><path d="M707.7,293 L692.5,285 L697,293 L692.5,301 Z" fill="#4b71aa"/><path d="M622.8,453.5 L639.5,445.5 L634,453.5 L639.5,461.5 Z" fill="#e9802c"/><rect x="637.5" y="451.80" width="10.00" height="3.4" fill="#e9802c"/><rect x="650.5" y="451.80" width="13.00" height="3.4" fill="#f1b06a"/><rect x="663.5" y="451.80" width="10.50" height="3.4" fill="#5fa6a6"/><rect x="674.5" y="451.80" width="11.50" height="3.4" fill="#a9c0e1"/><rect x="688.5" y="451.80" width="5.50" height="3.4" fill="#4b71aa"/><path d="M708.6,453.5 L692.5,445.5 L697,453.5 L692.5,461.5 Z" fill="#4b71aa"/></g></svg>
<div class="l" style="left:-121.0px;top:83.4px;font-size:15.8px;line-height:15.8px;color:#fff">Parental</div>
<div class="l" style="left:-121.0px;top:102.1px;font-size:15.8px;line-height:15.8px;color:#fff">stress</div>
<div class="l" style="left:-121.0px;top:121.4px;font-size:15.8px;line-height:15.8px;color:#fff">(Maternal/</div>
<div class="l" style="left:-121.0px;top:140.1px;font-size:15.8px;line-height:15.8px;color:#fff">paternal)</div>
<div class="l" style="left:39.0px;top:94.3px;font-size:18.2px;line-height:18.2px;color:#fff">Maternal</div>
<div class="l" style="left:39.0px;top:115.6px;font-size:18.2px;line-height:18.2px;color:#fff">behavior</div>
<div class="l" style="left:-35.4px;top:178.6px;font-size:20.7px;line-height:20.7px;color:#fff">Nutrition</div>
<div class="l" style="left:-147.1px;top:214.7px;font-size:15.85px;line-height:15.85px;color:#fff">Chemicals/</div>
<div class="l" style="left:-147.1px;top:233.6px;font-size:15.85px;line-height:15.85px;color:#fff">pollutants</div>
<div class="l" style="left:-69.3px;top:272.2px;font-size:15.8px;line-height:15.8px;color:#fff">Genetic</div>
<div class="l" style="left:-69.3px;top:290.9px;font-size:15.8px;line-height:15.8px;color:#fff">variation</div>
<div class="l" style="left:32.5px;top:256.4px;font-size:15.85px;line-height:15.85px;color:#fff">Microbiota/</div>
<div class="l" style="left:32.5px;top:275.3px;font-size:15.85px;line-height:15.85px;color:#fff">disease</div>
<div class="l" style="left:32.5px;top:293.8px;font-size:15.85px;line-height:15.85px;color:#fff">pathogens</div>
<div class="l" style="left:-113.3px;top:359.2px;font-size:16.0px;line-height:16.0px;color:#fff">Environmental</div>
<div class="l" style="left:-113.3px;top:378.4px;font-size:16.0px;line-height:16.0px;color:#fff">Stress</div>
<div class="l" style="left:-113.3px;top:396.9px;font-size:16.0px;line-height:16.0px;color:#fff">(Heat/cold/</div>
<div class="l" style="left:-113.3px;top:415.3px;font-size:16.0px;line-height:16.0px;color:#fff">climate)</div>
<div class="l" style="left:31.2px;top:397.0px;font-size:13.65px;line-height:13.65px;color:#fff">Management</div>
<div class="l" style="left:31.2px;top:413.3px;font-size:13.65px;line-height:13.65px;color:#fff">practices</div>
<div class="l" style="left:243.6px;top:124.2px;font-size:18.25px;line-height:18.25px;color:#fff">DNA</div>
<div class="l" style="left:243.6px;top:145.9px;font-size:18.25px;line-height:18.25px;color:#fff">methylation</div>
<div class="l" style="left:354.3px;top:215.5px;font-size:18.2px;line-height:18.2px;color:#fff">Histone</div>
<div class="l" style="left:354.3px;top:237.5px;font-size:18.2px;line-height:18.2px;color:#fff">modifications</div>
<div class="l" style="left:245.0px;top:309.0px;font-size:18.3px;line-height:18.3px;color:#fff">Chromatin</div>
<div class="l" style="left:245.0px;top:330.9px;font-size:18.3px;line-height:18.3px;color:#fff">remodeling</div>
<div class="l" style="left:346.1px;top:387.7px;font-size:18.2px;line-height:18.2px;color:#fff">Non-coding</div>
<div class="l" style="left:346.1px;top:408.7px;font-size:18.2px;line-height:18.2px;color:#fff">RNA</div>
<div class="l" style="left:346.1px;top:429.3px;font-size:18.2px;line-height:18.2px;color:#fff">regulation</div>
<div class="l" style="left:597.2px;top:86.0px;font-size:18.2px;line-height:18.2px;color:#fff">Feed</div>
<div class="l" style="left:597.2px;top:107.6px;font-size:18.2px;line-height:18.2px;color:#fff">efficiency</div>
<div class="l" style="left:560.0px;top:345.6px;font-size:20.45px;line-height:20.45px;color:#fff">Disease</div>
<div class="l" style="left:560.0px;top:369.9px;font-size:20.45px;line-height:20.45px;color:#fff">resistance</div>
<div class="l" style="left:772.6px;top:224.1px;font-size:16.0px;line-height:16.0px;color:#fff">Repro-</div>
<div class="l" style="left:772.6px;top:242.6px;font-size:16.0px;line-height:16.0px;color:#fff">duction</div>
<div class="l" style="left:765.3px;top:357.4px;font-size:15.9px;line-height:15.9px;color:#fff">Growth</div>
<div class="l" style="left:765.3px;top:376.4px;font-size:15.9px;line-height:15.9px;color:#fff">Development</div>
<div class="l" style="left:721.5px;top:169.2px;font-size:20.7px;line-height:20.7px;color:#fff">Meat</div>
<div class="l" style="left:559.0px;top:257.3px;font-size:20.6px;line-height:20.6px;color:#fff">Milk</div>
<div class="l" style="left:668.0px;top:328.1px;font-size:20.9px;line-height:20.9px;color:#fff">Egg</div>
<div class="l" style="left:663.0px;top:461.7px;font-size:16.1px;line-height:16.1px;color:#fff">Wool</div>
<div class="l" style="left:-35.7px;top:12.2px;font-size:20.4px;line-height:20.4px;color:#3b5a25">EXPOSOME</div>
<div class="l" style="left:311.1px;top:1.5px;font-size:20.45px;line-height:20.45px;color:#c0622a">EPIGENETIC</div>
<div class="l" style="left:311.1px;top:26.1px;font-size:20.45px;line-height:20.45px;color:#c0622a">PROCESSES</div>
<div class="l" style="left:647.7px;top:13.3px;font-size:20.5px;line-height:20.5px;color:#213764">PHENOTYPE</div>
<div class="l" style="left:136.0px;top:478.7px;font-size:18.1px;line-height:18.1px;color:#4d74a6">Genome</div>
<div class="l" style="left:471.5px;top:478.7px;font-size:18.1px;line-height:18.1px;color:#4d74a6">Genome</div>
</body></html>
